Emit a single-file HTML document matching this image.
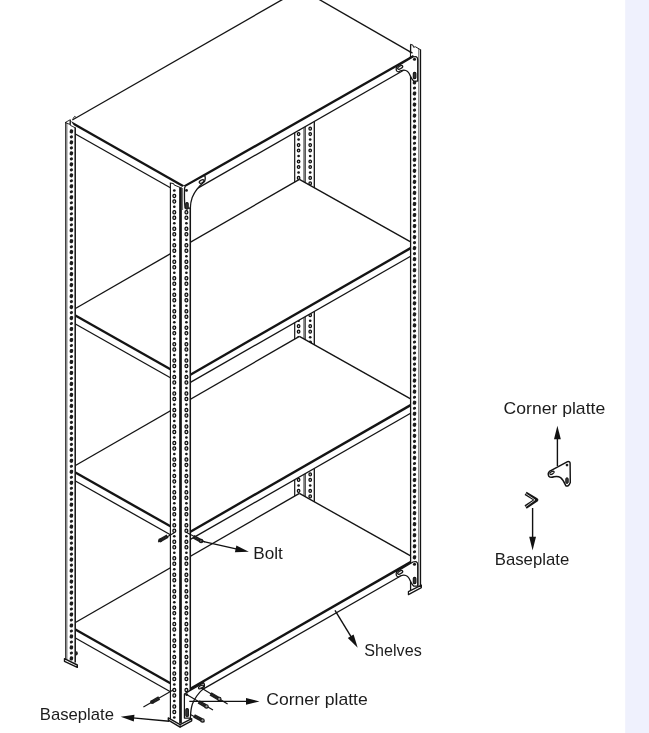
<!DOCTYPE html>
<html><head><meta charset="utf-8"><title>Shelving diagram</title>
<style>
html,body{margin:0;padding:0;background:#fff;}
body{width:649px;height:733px;overflow:hidden;position:relative;font-family:"Liberation Sans",sans-serif;}
</style></head><body>
<svg width="649" height="733" viewBox="0 0 649 733" style="position:absolute;left:0;top:0">
<rect x="0" y="0" width="649" height="733" fill="#fff"/>
<rect x="625.2" y="0" width="24" height="733" fill="#eff1fd"/>
<polygon points="294.50,100.00 314.40,100.00 314.40,560.00 294.50,560.00" fill="#fff" stroke="none" stroke-width="1.0" stroke-linejoin="round"/>
<line x1="294.70" y1="100.00" x2="294.70" y2="560.00" stroke="#141414" stroke-width="1.2" stroke-linecap="butt"/>
<line x1="304.00" y1="100.00" x2="304.00" y2="560.00" stroke="#141414" stroke-width="0.9" stroke-linecap="butt"/>
<line x1="305.30" y1="100.00" x2="305.30" y2="560.00" stroke="#141414" stroke-width="0.9" stroke-linecap="butt"/>
<line x1="314.30" y1="100.00" x2="314.30" y2="560.00" stroke="#141414" stroke-width="1.3" stroke-linecap="butt"/>
<rect x="297.40" y="99.62" width="2.40" height="2.95" rx="1.15" fill="#cfcfcf" stroke="#0e0e0e" stroke-width="1.25"/>
<ellipse cx="298.60" cy="106.59" rx="1.35" ry="1.25" fill="#161616"/>
<rect x="297.40" y="110.61" width="2.40" height="2.95" rx="1.15" fill="#cfcfcf" stroke="#0e0e0e" stroke-width="1.25"/>
<rect x="297.40" y="116.09" width="2.40" height="2.95" rx="1.15" fill="#cfcfcf" stroke="#0e0e0e" stroke-width="1.25"/>
<ellipse cx="298.60" cy="123.06" rx="1.35" ry="1.25" fill="#161616"/>
<rect x="297.40" y="127.08" width="2.40" height="2.95" rx="1.15" fill="#cfcfcf" stroke="#0e0e0e" stroke-width="1.25"/>
<rect x="297.40" y="132.56" width="2.40" height="2.95" rx="1.15" fill="#cfcfcf" stroke="#0e0e0e" stroke-width="1.25"/>
<ellipse cx="298.60" cy="139.53" rx="1.35" ry="1.25" fill="#161616"/>
<rect x="297.40" y="143.55" width="2.40" height="2.95" rx="1.15" fill="#cfcfcf" stroke="#0e0e0e" stroke-width="1.25"/>
<rect x="297.40" y="149.03" width="2.40" height="2.95" rx="1.15" fill="#cfcfcf" stroke="#0e0e0e" stroke-width="1.25"/>
<ellipse cx="298.60" cy="156.00" rx="1.35" ry="1.25" fill="#161616"/>
<rect x="297.40" y="160.02" width="2.40" height="2.95" rx="1.15" fill="#cfcfcf" stroke="#0e0e0e" stroke-width="1.25"/>
<rect x="297.40" y="165.50" width="2.40" height="2.95" rx="1.15" fill="#cfcfcf" stroke="#0e0e0e" stroke-width="1.25"/>
<ellipse cx="298.60" cy="172.47" rx="1.35" ry="1.25" fill="#161616"/>
<rect x="297.40" y="176.49" width="2.40" height="2.95" rx="1.15" fill="#cfcfcf" stroke="#0e0e0e" stroke-width="1.25"/>
<rect x="297.40" y="181.97" width="2.40" height="2.95" rx="1.15" fill="#cfcfcf" stroke="#0e0e0e" stroke-width="1.25"/>
<ellipse cx="298.60" cy="188.94" rx="1.35" ry="1.25" fill="#161616"/>
<rect x="297.40" y="192.96" width="2.40" height="2.95" rx="1.15" fill="#cfcfcf" stroke="#0e0e0e" stroke-width="1.25"/>
<rect x="297.40" y="198.45" width="2.40" height="2.95" rx="1.15" fill="#cfcfcf" stroke="#0e0e0e" stroke-width="1.25"/>
<ellipse cx="298.60" cy="205.41" rx="1.35" ry="1.25" fill="#161616"/>
<rect x="297.40" y="209.43" width="2.40" height="2.95" rx="1.15" fill="#cfcfcf" stroke="#0e0e0e" stroke-width="1.25"/>
<rect x="297.40" y="214.91" width="2.40" height="2.95" rx="1.15" fill="#cfcfcf" stroke="#0e0e0e" stroke-width="1.25"/>
<ellipse cx="298.60" cy="221.88" rx="1.35" ry="1.25" fill="#161616"/>
<rect x="297.40" y="225.90" width="2.40" height="2.95" rx="1.15" fill="#cfcfcf" stroke="#0e0e0e" stroke-width="1.25"/>
<rect x="297.40" y="231.39" width="2.40" height="2.95" rx="1.15" fill="#cfcfcf" stroke="#0e0e0e" stroke-width="1.25"/>
<ellipse cx="298.60" cy="238.35" rx="1.35" ry="1.25" fill="#161616"/>
<rect x="297.40" y="242.37" width="2.40" height="2.95" rx="1.15" fill="#cfcfcf" stroke="#0e0e0e" stroke-width="1.25"/>
<rect x="297.40" y="247.85" width="2.40" height="2.95" rx="1.15" fill="#cfcfcf" stroke="#0e0e0e" stroke-width="1.25"/>
<ellipse cx="298.60" cy="254.82" rx="1.35" ry="1.25" fill="#161616"/>
<rect x="297.40" y="258.83" width="2.40" height="2.95" rx="1.15" fill="#cfcfcf" stroke="#0e0e0e" stroke-width="1.25"/>
<rect x="297.40" y="264.32" width="2.40" height="2.95" rx="1.15" fill="#cfcfcf" stroke="#0e0e0e" stroke-width="1.25"/>
<ellipse cx="298.60" cy="271.29" rx="1.35" ry="1.25" fill="#161616"/>
<rect x="297.40" y="275.30" width="2.40" height="2.95" rx="1.15" fill="#cfcfcf" stroke="#0e0e0e" stroke-width="1.25"/>
<rect x="297.40" y="280.79" width="2.40" height="2.95" rx="1.15" fill="#cfcfcf" stroke="#0e0e0e" stroke-width="1.25"/>
<ellipse cx="298.60" cy="287.76" rx="1.35" ry="1.25" fill="#161616"/>
<rect x="297.40" y="291.77" width="2.40" height="2.95" rx="1.15" fill="#cfcfcf" stroke="#0e0e0e" stroke-width="1.25"/>
<rect x="297.40" y="297.26" width="2.40" height="2.95" rx="1.15" fill="#cfcfcf" stroke="#0e0e0e" stroke-width="1.25"/>
<ellipse cx="298.60" cy="304.23" rx="1.35" ry="1.25" fill="#161616"/>
<rect x="297.40" y="308.25" width="2.40" height="2.95" rx="1.15" fill="#cfcfcf" stroke="#0e0e0e" stroke-width="1.25"/>
<rect x="297.40" y="313.74" width="2.40" height="2.95" rx="1.15" fill="#cfcfcf" stroke="#0e0e0e" stroke-width="1.25"/>
<ellipse cx="298.60" cy="320.70" rx="1.35" ry="1.25" fill="#161616"/>
<rect x="297.40" y="324.71" width="2.40" height="2.95" rx="1.15" fill="#cfcfcf" stroke="#0e0e0e" stroke-width="1.25"/>
<rect x="297.40" y="330.20" width="2.40" height="2.95" rx="1.15" fill="#cfcfcf" stroke="#0e0e0e" stroke-width="1.25"/>
<ellipse cx="298.60" cy="337.17" rx="1.35" ry="1.25" fill="#161616"/>
<rect x="297.40" y="341.18" width="2.40" height="2.95" rx="1.15" fill="#cfcfcf" stroke="#0e0e0e" stroke-width="1.25"/>
<rect x="297.40" y="346.67" width="2.40" height="2.95" rx="1.15" fill="#cfcfcf" stroke="#0e0e0e" stroke-width="1.25"/>
<ellipse cx="298.60" cy="353.64" rx="1.35" ry="1.25" fill="#161616"/>
<rect x="297.40" y="357.65" width="2.40" height="2.95" rx="1.15" fill="#cfcfcf" stroke="#0e0e0e" stroke-width="1.25"/>
<rect x="297.40" y="363.14" width="2.40" height="2.95" rx="1.15" fill="#cfcfcf" stroke="#0e0e0e" stroke-width="1.25"/>
<ellipse cx="298.60" cy="370.11" rx="1.35" ry="1.25" fill="#161616"/>
<rect x="297.40" y="374.12" width="2.40" height="2.95" rx="1.15" fill="#cfcfcf" stroke="#0e0e0e" stroke-width="1.25"/>
<rect x="297.40" y="379.62" width="2.40" height="2.95" rx="1.15" fill="#cfcfcf" stroke="#0e0e0e" stroke-width="1.25"/>
<ellipse cx="298.60" cy="386.58" rx="1.35" ry="1.25" fill="#161616"/>
<rect x="297.40" y="390.60" width="2.40" height="2.95" rx="1.15" fill="#cfcfcf" stroke="#0e0e0e" stroke-width="1.25"/>
<rect x="297.40" y="396.08" width="2.40" height="2.95" rx="1.15" fill="#cfcfcf" stroke="#0e0e0e" stroke-width="1.25"/>
<ellipse cx="298.60" cy="403.05" rx="1.35" ry="1.25" fill="#161616"/>
<rect x="297.40" y="407.06" width="2.40" height="2.95" rx="1.15" fill="#cfcfcf" stroke="#0e0e0e" stroke-width="1.25"/>
<rect x="297.40" y="412.56" width="2.40" height="2.95" rx="1.15" fill="#cfcfcf" stroke="#0e0e0e" stroke-width="1.25"/>
<ellipse cx="298.60" cy="419.52" rx="1.35" ry="1.25" fill="#161616"/>
<rect x="297.40" y="423.53" width="2.40" height="2.95" rx="1.15" fill="#cfcfcf" stroke="#0e0e0e" stroke-width="1.25"/>
<rect x="297.40" y="429.02" width="2.40" height="2.95" rx="1.15" fill="#cfcfcf" stroke="#0e0e0e" stroke-width="1.25"/>
<ellipse cx="298.60" cy="435.99" rx="1.35" ry="1.25" fill="#161616"/>
<rect x="297.40" y="440.00" width="2.40" height="2.95" rx="1.15" fill="#cfcfcf" stroke="#0e0e0e" stroke-width="1.25"/>
<rect x="297.40" y="445.50" width="2.40" height="2.95" rx="1.15" fill="#cfcfcf" stroke="#0e0e0e" stroke-width="1.25"/>
<ellipse cx="298.60" cy="452.46" rx="1.35" ry="1.25" fill="#161616"/>
<rect x="297.40" y="456.47" width="2.40" height="2.95" rx="1.15" fill="#cfcfcf" stroke="#0e0e0e" stroke-width="1.25"/>
<rect x="297.40" y="461.96" width="2.40" height="2.95" rx="1.15" fill="#cfcfcf" stroke="#0e0e0e" stroke-width="1.25"/>
<ellipse cx="298.60" cy="468.93" rx="1.35" ry="1.25" fill="#161616"/>
<rect x="297.40" y="472.94" width="2.40" height="2.95" rx="1.15" fill="#cfcfcf" stroke="#0e0e0e" stroke-width="1.25"/>
<rect x="297.40" y="478.44" width="2.40" height="2.95" rx="1.15" fill="#cfcfcf" stroke="#0e0e0e" stroke-width="1.25"/>
<ellipse cx="298.60" cy="485.40" rx="1.35" ry="1.25" fill="#161616"/>
<rect x="297.40" y="489.41" width="2.40" height="2.95" rx="1.15" fill="#cfcfcf" stroke="#0e0e0e" stroke-width="1.25"/>
<rect x="297.40" y="494.90" width="2.40" height="2.95" rx="1.15" fill="#cfcfcf" stroke="#0e0e0e" stroke-width="1.25"/>
<ellipse cx="298.60" cy="501.87" rx="1.35" ry="1.25" fill="#161616"/>
<rect x="297.40" y="505.88" width="2.40" height="2.95" rx="1.15" fill="#cfcfcf" stroke="#0e0e0e" stroke-width="1.25"/>
<rect x="297.40" y="511.38" width="2.40" height="2.95" rx="1.15" fill="#cfcfcf" stroke="#0e0e0e" stroke-width="1.25"/>
<ellipse cx="298.60" cy="518.34" rx="1.35" ry="1.25" fill="#161616"/>
<rect x="297.40" y="522.36" width="2.40" height="2.95" rx="1.15" fill="#cfcfcf" stroke="#0e0e0e" stroke-width="1.25"/>
<rect x="297.40" y="527.84" width="2.40" height="2.95" rx="1.15" fill="#cfcfcf" stroke="#0e0e0e" stroke-width="1.25"/>
<ellipse cx="298.60" cy="534.81" rx="1.35" ry="1.25" fill="#161616"/>
<rect x="297.40" y="538.82" width="2.40" height="2.95" rx="1.15" fill="#cfcfcf" stroke="#0e0e0e" stroke-width="1.25"/>
<rect x="297.40" y="544.31" width="2.40" height="2.95" rx="1.15" fill="#cfcfcf" stroke="#0e0e0e" stroke-width="1.25"/>
<ellipse cx="298.60" cy="551.28" rx="1.35" ry="1.25" fill="#161616"/>
<rect x="297.40" y="555.29" width="2.40" height="2.95" rx="1.15" fill="#cfcfcf" stroke="#0e0e0e" stroke-width="1.25"/>
<rect x="309.00" y="99.62" width="2.40" height="2.95" rx="1.15" fill="#cfcfcf" stroke="#0e0e0e" stroke-width="1.25"/>
<ellipse cx="310.20" cy="106.59" rx="1.35" ry="1.25" fill="#161616"/>
<rect x="309.00" y="110.61" width="2.40" height="2.95" rx="1.15" fill="#cfcfcf" stroke="#0e0e0e" stroke-width="1.25"/>
<rect x="309.00" y="116.09" width="2.40" height="2.95" rx="1.15" fill="#cfcfcf" stroke="#0e0e0e" stroke-width="1.25"/>
<ellipse cx="310.20" cy="123.06" rx="1.35" ry="1.25" fill="#161616"/>
<rect x="309.00" y="127.08" width="2.40" height="2.95" rx="1.15" fill="#cfcfcf" stroke="#0e0e0e" stroke-width="1.25"/>
<rect x="309.00" y="132.56" width="2.40" height="2.95" rx="1.15" fill="#cfcfcf" stroke="#0e0e0e" stroke-width="1.25"/>
<ellipse cx="310.20" cy="139.53" rx="1.35" ry="1.25" fill="#161616"/>
<rect x="309.00" y="143.55" width="2.40" height="2.95" rx="1.15" fill="#cfcfcf" stroke="#0e0e0e" stroke-width="1.25"/>
<rect x="309.00" y="149.03" width="2.40" height="2.95" rx="1.15" fill="#cfcfcf" stroke="#0e0e0e" stroke-width="1.25"/>
<ellipse cx="310.20" cy="156.00" rx="1.35" ry="1.25" fill="#161616"/>
<rect x="309.00" y="160.02" width="2.40" height="2.95" rx="1.15" fill="#cfcfcf" stroke="#0e0e0e" stroke-width="1.25"/>
<rect x="309.00" y="165.50" width="2.40" height="2.95" rx="1.15" fill="#cfcfcf" stroke="#0e0e0e" stroke-width="1.25"/>
<ellipse cx="310.20" cy="172.47" rx="1.35" ry="1.25" fill="#161616"/>
<rect x="309.00" y="176.49" width="2.40" height="2.95" rx="1.15" fill="#cfcfcf" stroke="#0e0e0e" stroke-width="1.25"/>
<rect x="309.00" y="181.97" width="2.40" height="2.95" rx="1.15" fill="#cfcfcf" stroke="#0e0e0e" stroke-width="1.25"/>
<ellipse cx="310.20" cy="188.94" rx="1.35" ry="1.25" fill="#161616"/>
<rect x="309.00" y="192.96" width="2.40" height="2.95" rx="1.15" fill="#cfcfcf" stroke="#0e0e0e" stroke-width="1.25"/>
<rect x="309.00" y="198.45" width="2.40" height="2.95" rx="1.15" fill="#cfcfcf" stroke="#0e0e0e" stroke-width="1.25"/>
<ellipse cx="310.20" cy="205.41" rx="1.35" ry="1.25" fill="#161616"/>
<rect x="309.00" y="209.43" width="2.40" height="2.95" rx="1.15" fill="#cfcfcf" stroke="#0e0e0e" stroke-width="1.25"/>
<rect x="309.00" y="214.91" width="2.40" height="2.95" rx="1.15" fill="#cfcfcf" stroke="#0e0e0e" stroke-width="1.25"/>
<ellipse cx="310.20" cy="221.88" rx="1.35" ry="1.25" fill="#161616"/>
<rect x="309.00" y="225.90" width="2.40" height="2.95" rx="1.15" fill="#cfcfcf" stroke="#0e0e0e" stroke-width="1.25"/>
<rect x="309.00" y="231.39" width="2.40" height="2.95" rx="1.15" fill="#cfcfcf" stroke="#0e0e0e" stroke-width="1.25"/>
<ellipse cx="310.20" cy="238.35" rx="1.35" ry="1.25" fill="#161616"/>
<rect x="309.00" y="242.37" width="2.40" height="2.95" rx="1.15" fill="#cfcfcf" stroke="#0e0e0e" stroke-width="1.25"/>
<rect x="309.00" y="247.85" width="2.40" height="2.95" rx="1.15" fill="#cfcfcf" stroke="#0e0e0e" stroke-width="1.25"/>
<ellipse cx="310.20" cy="254.82" rx="1.35" ry="1.25" fill="#161616"/>
<rect x="309.00" y="258.83" width="2.40" height="2.95" rx="1.15" fill="#cfcfcf" stroke="#0e0e0e" stroke-width="1.25"/>
<rect x="309.00" y="264.32" width="2.40" height="2.95" rx="1.15" fill="#cfcfcf" stroke="#0e0e0e" stroke-width="1.25"/>
<ellipse cx="310.20" cy="271.29" rx="1.35" ry="1.25" fill="#161616"/>
<rect x="309.00" y="275.30" width="2.40" height="2.95" rx="1.15" fill="#cfcfcf" stroke="#0e0e0e" stroke-width="1.25"/>
<rect x="309.00" y="280.79" width="2.40" height="2.95" rx="1.15" fill="#cfcfcf" stroke="#0e0e0e" stroke-width="1.25"/>
<ellipse cx="310.20" cy="287.76" rx="1.35" ry="1.25" fill="#161616"/>
<rect x="309.00" y="291.77" width="2.40" height="2.95" rx="1.15" fill="#cfcfcf" stroke="#0e0e0e" stroke-width="1.25"/>
<rect x="309.00" y="297.26" width="2.40" height="2.95" rx="1.15" fill="#cfcfcf" stroke="#0e0e0e" stroke-width="1.25"/>
<ellipse cx="310.20" cy="304.23" rx="1.35" ry="1.25" fill="#161616"/>
<rect x="309.00" y="308.25" width="2.40" height="2.95" rx="1.15" fill="#cfcfcf" stroke="#0e0e0e" stroke-width="1.25"/>
<rect x="309.00" y="313.74" width="2.40" height="2.95" rx="1.15" fill="#cfcfcf" stroke="#0e0e0e" stroke-width="1.25"/>
<ellipse cx="310.20" cy="320.70" rx="1.35" ry="1.25" fill="#161616"/>
<rect x="309.00" y="324.71" width="2.40" height="2.95" rx="1.15" fill="#cfcfcf" stroke="#0e0e0e" stroke-width="1.25"/>
<rect x="309.00" y="330.20" width="2.40" height="2.95" rx="1.15" fill="#cfcfcf" stroke="#0e0e0e" stroke-width="1.25"/>
<ellipse cx="310.20" cy="337.17" rx="1.35" ry="1.25" fill="#161616"/>
<rect x="309.00" y="341.18" width="2.40" height="2.95" rx="1.15" fill="#cfcfcf" stroke="#0e0e0e" stroke-width="1.25"/>
<rect x="309.00" y="346.67" width="2.40" height="2.95" rx="1.15" fill="#cfcfcf" stroke="#0e0e0e" stroke-width="1.25"/>
<ellipse cx="310.20" cy="353.64" rx="1.35" ry="1.25" fill="#161616"/>
<rect x="309.00" y="357.65" width="2.40" height="2.95" rx="1.15" fill="#cfcfcf" stroke="#0e0e0e" stroke-width="1.25"/>
<rect x="309.00" y="363.14" width="2.40" height="2.95" rx="1.15" fill="#cfcfcf" stroke="#0e0e0e" stroke-width="1.25"/>
<ellipse cx="310.20" cy="370.11" rx="1.35" ry="1.25" fill="#161616"/>
<rect x="309.00" y="374.12" width="2.40" height="2.95" rx="1.15" fill="#cfcfcf" stroke="#0e0e0e" stroke-width="1.25"/>
<rect x="309.00" y="379.62" width="2.40" height="2.95" rx="1.15" fill="#cfcfcf" stroke="#0e0e0e" stroke-width="1.25"/>
<ellipse cx="310.20" cy="386.58" rx="1.35" ry="1.25" fill="#161616"/>
<rect x="309.00" y="390.60" width="2.40" height="2.95" rx="1.15" fill="#cfcfcf" stroke="#0e0e0e" stroke-width="1.25"/>
<rect x="309.00" y="396.08" width="2.40" height="2.95" rx="1.15" fill="#cfcfcf" stroke="#0e0e0e" stroke-width="1.25"/>
<ellipse cx="310.20" cy="403.05" rx="1.35" ry="1.25" fill="#161616"/>
<rect x="309.00" y="407.06" width="2.40" height="2.95" rx="1.15" fill="#cfcfcf" stroke="#0e0e0e" stroke-width="1.25"/>
<rect x="309.00" y="412.56" width="2.40" height="2.95" rx="1.15" fill="#cfcfcf" stroke="#0e0e0e" stroke-width="1.25"/>
<ellipse cx="310.20" cy="419.52" rx="1.35" ry="1.25" fill="#161616"/>
<rect x="309.00" y="423.53" width="2.40" height="2.95" rx="1.15" fill="#cfcfcf" stroke="#0e0e0e" stroke-width="1.25"/>
<rect x="309.00" y="429.02" width="2.40" height="2.95" rx="1.15" fill="#cfcfcf" stroke="#0e0e0e" stroke-width="1.25"/>
<ellipse cx="310.20" cy="435.99" rx="1.35" ry="1.25" fill="#161616"/>
<rect x="309.00" y="440.00" width="2.40" height="2.95" rx="1.15" fill="#cfcfcf" stroke="#0e0e0e" stroke-width="1.25"/>
<rect x="309.00" y="445.50" width="2.40" height="2.95" rx="1.15" fill="#cfcfcf" stroke="#0e0e0e" stroke-width="1.25"/>
<ellipse cx="310.20" cy="452.46" rx="1.35" ry="1.25" fill="#161616"/>
<rect x="309.00" y="456.47" width="2.40" height="2.95" rx="1.15" fill="#cfcfcf" stroke="#0e0e0e" stroke-width="1.25"/>
<rect x="309.00" y="461.96" width="2.40" height="2.95" rx="1.15" fill="#cfcfcf" stroke="#0e0e0e" stroke-width="1.25"/>
<ellipse cx="310.20" cy="468.93" rx="1.35" ry="1.25" fill="#161616"/>
<rect x="309.00" y="472.94" width="2.40" height="2.95" rx="1.15" fill="#cfcfcf" stroke="#0e0e0e" stroke-width="1.25"/>
<rect x="309.00" y="478.44" width="2.40" height="2.95" rx="1.15" fill="#cfcfcf" stroke="#0e0e0e" stroke-width="1.25"/>
<ellipse cx="310.20" cy="485.40" rx="1.35" ry="1.25" fill="#161616"/>
<rect x="309.00" y="489.41" width="2.40" height="2.95" rx="1.15" fill="#cfcfcf" stroke="#0e0e0e" stroke-width="1.25"/>
<rect x="309.00" y="494.90" width="2.40" height="2.95" rx="1.15" fill="#cfcfcf" stroke="#0e0e0e" stroke-width="1.25"/>
<ellipse cx="310.20" cy="501.87" rx="1.35" ry="1.25" fill="#161616"/>
<rect x="309.00" y="505.88" width="2.40" height="2.95" rx="1.15" fill="#cfcfcf" stroke="#0e0e0e" stroke-width="1.25"/>
<rect x="309.00" y="511.38" width="2.40" height="2.95" rx="1.15" fill="#cfcfcf" stroke="#0e0e0e" stroke-width="1.25"/>
<ellipse cx="310.20" cy="518.34" rx="1.35" ry="1.25" fill="#161616"/>
<rect x="309.00" y="522.36" width="2.40" height="2.95" rx="1.15" fill="#cfcfcf" stroke="#0e0e0e" stroke-width="1.25"/>
<rect x="309.00" y="527.84" width="2.40" height="2.95" rx="1.15" fill="#cfcfcf" stroke="#0e0e0e" stroke-width="1.25"/>
<ellipse cx="310.20" cy="534.81" rx="1.35" ry="1.25" fill="#161616"/>
<rect x="309.00" y="538.82" width="2.40" height="2.95" rx="1.15" fill="#cfcfcf" stroke="#0e0e0e" stroke-width="1.25"/>
<rect x="309.00" y="544.31" width="2.40" height="2.95" rx="1.15" fill="#cfcfcf" stroke="#0e0e0e" stroke-width="1.25"/>
<ellipse cx="310.20" cy="551.28" rx="1.35" ry="1.25" fill="#161616"/>
<rect x="309.00" y="555.29" width="2.40" height="2.95" rx="1.15" fill="#cfcfcf" stroke="#0e0e0e" stroke-width="1.25"/>
<polygon points="68.00,122.00 300.90,-11.05 414.00,54.00 410.60,66.20 190.40,192.40 180.50,196.00 170.40,187.80 75.40,134.00" fill="#fff" stroke="none" stroke-width="1.0" stroke-linejoin="round"/>
<line x1="72.30" y1="120.00" x2="300.90" y2="-11.05" stroke="#141414" stroke-width="1.35" stroke-linecap="butt"/>
<line x1="300.90" y1="-11.05" x2="412.40" y2="53.10" stroke="#141414" stroke-width="1.35" stroke-linecap="butt"/>
<line x1="70.80" y1="122.30" x2="183.40" y2="186.20" stroke="#141414" stroke-width="2.4" stroke-linecap="butt"/>
<line x1="75.40" y1="134.00" x2="170.40" y2="187.80" stroke="#141414" stroke-width="1.3" stroke-linecap="butt"/>
<line x1="184.20" y1="186.50" x2="413.20" y2="56.20" stroke="#141414" stroke-width="2.4" stroke-linecap="butt"/>
<line x1="190.40" y1="192.40" x2="410.60" y2="66.20" stroke="#141414" stroke-width="1.3" stroke-linecap="butt"/>
<polygon points="68.00,312.00 299.40,179.40 414.00,244.00 410.60,256.20 190.40,382.40 180.50,386.00 170.40,377.80 75.40,324.00" fill="#fff" stroke="none" stroke-width="1.0" stroke-linejoin="round"/>
<line x1="75.40" y1="308.50" x2="299.40" y2="179.40" stroke="#141414" stroke-width="1.35" stroke-linecap="butt"/>
<line x1="299.40" y1="179.40" x2="410.60" y2="241.90" stroke="#141414" stroke-width="1.35" stroke-linecap="butt"/>
<line x1="75.40" y1="315.50" x2="170.40" y2="369.30" stroke="#141414" stroke-width="2.4" stroke-linecap="butt"/>
<line x1="75.40" y1="324.00" x2="170.40" y2="377.80" stroke="#141414" stroke-width="1.3" stroke-linecap="butt"/>
<line x1="190.40" y1="374.70" x2="410.60" y2="248.10" stroke="#141414" stroke-width="2.4" stroke-linecap="butt"/>
<line x1="190.40" y1="382.40" x2="410.60" y2="256.20" stroke="#141414" stroke-width="1.3" stroke-linecap="butt"/>
<polygon points="68.00,469.00 299.40,336.40 414.00,401.00 410.60,413.20 190.40,539.40 180.50,543.00 170.40,534.80 75.40,481.00" fill="#fff" stroke="none" stroke-width="1.0" stroke-linejoin="round"/>
<line x1="75.40" y1="465.50" x2="299.40" y2="336.40" stroke="#141414" stroke-width="1.35" stroke-linecap="butt"/>
<line x1="299.40" y1="336.40" x2="410.60" y2="398.90" stroke="#141414" stroke-width="1.35" stroke-linecap="butt"/>
<line x1="75.40" y1="472.50" x2="170.40" y2="526.30" stroke="#141414" stroke-width="2.4" stroke-linecap="butt"/>
<line x1="75.40" y1="481.00" x2="170.40" y2="534.80" stroke="#141414" stroke-width="1.3" stroke-linecap="butt"/>
<line x1="190.40" y1="531.70" x2="410.60" y2="405.10" stroke="#141414" stroke-width="2.4" stroke-linecap="butt"/>
<line x1="190.40" y1="539.40" x2="410.60" y2="413.20" stroke="#141414" stroke-width="1.3" stroke-linecap="butt"/>
<polygon points="68.00,626.00 299.40,493.40 414.00,558.00 410.60,570.20 190.40,696.40 180.50,700.00 170.40,691.80 75.40,638.00" fill="#fff" stroke="none" stroke-width="1.0" stroke-linejoin="round"/>
<line x1="75.40" y1="622.50" x2="299.40" y2="493.40" stroke="#141414" stroke-width="1.35" stroke-linecap="butt"/>
<line x1="299.40" y1="493.40" x2="410.60" y2="555.90" stroke="#141414" stroke-width="1.35" stroke-linecap="butt"/>
<line x1="75.40" y1="629.50" x2="170.40" y2="683.30" stroke="#141414" stroke-width="2.4" stroke-linecap="butt"/>
<line x1="75.40" y1="638.00" x2="170.40" y2="691.80" stroke="#141414" stroke-width="1.3" stroke-linecap="butt"/>
<line x1="190.40" y1="688.70" x2="410.60" y2="562.10" stroke="#141414" stroke-width="2.4" stroke-linecap="butt"/>
<line x1="190.40" y1="696.40" x2="410.60" y2="570.20" stroke="#141414" stroke-width="1.3" stroke-linecap="butt"/>
<polygon points="65.50,122.00 69.80,119.60 75.30,127.50 75.30,663.50 65.50,659.50" fill="#fff" stroke="none" stroke-width="1.0" stroke-linejoin="round"/>
<line x1="65.75" y1="122.00" x2="65.75" y2="659.50" stroke="#1a1a1a" stroke-width="1.15" stroke-linecap="butt"/>
<line x1="66.95" y1="123.00" x2="66.95" y2="659.50" stroke="#555" stroke-width="0.8" stroke-linecap="butt"/>
<line x1="75.20" y1="127.50" x2="75.20" y2="662.50" stroke="#141414" stroke-width="1.5" stroke-linecap="butt"/>
<path d="M65.6 122.3 L70.3 119.7 L69.9 124.0 Z M70.4 120.4 L70.4 125.4 L72.9 126.6 L75.3 127.8 M73.2 118.4 L74.6 116.4 L75.6 117.0" fill="none" stroke="#141414" stroke-width="0.9" stroke-linejoin="round" stroke-linecap="round" />
<rect x="69.70" y="129.35" width="3.4" height="4.1" rx="1.4" fill="#1c1c1c" transform="rotate(12 71.40 131.40)"/>
<ellipse cx="71.40" cy="136.89" rx="1.65" ry="1.45" fill="#1e1e1e" transform="rotate(-25 71.40 136.89)"/>
<rect x="69.70" y="140.33" width="3.4" height="4.1" rx="1.4" fill="#1c1c1c" transform="rotate(12 71.40 142.38)"/>
<ellipse cx="71.40" cy="147.87" rx="1.65" ry="1.45" fill="#1e1e1e" transform="rotate(-25 71.40 147.87)"/>
<rect x="69.70" y="151.31" width="3.4" height="4.1" rx="1.4" fill="#1c1c1c" transform="rotate(12 71.40 153.36)"/>
<ellipse cx="71.40" cy="158.85" rx="1.65" ry="1.45" fill="#1e1e1e" transform="rotate(-25 71.40 158.85)"/>
<rect x="69.70" y="162.29" width="3.4" height="4.1" rx="1.4" fill="#1c1c1c" transform="rotate(12 71.40 164.34)"/>
<ellipse cx="71.40" cy="169.83" rx="1.65" ry="1.45" fill="#1e1e1e" transform="rotate(-25 71.40 169.83)"/>
<rect x="69.70" y="173.27" width="3.4" height="4.1" rx="1.4" fill="#1c1c1c" transform="rotate(12 71.40 175.32)"/>
<ellipse cx="71.40" cy="180.81" rx="1.65" ry="1.45" fill="#1e1e1e" transform="rotate(-25 71.40 180.81)"/>
<rect x="69.70" y="184.25" width="3.4" height="4.1" rx="1.4" fill="#1c1c1c" transform="rotate(12 71.40 186.30)"/>
<ellipse cx="71.40" cy="191.79" rx="1.65" ry="1.45" fill="#1e1e1e" transform="rotate(-25 71.40 191.79)"/>
<rect x="69.70" y="195.23" width="3.4" height="4.1" rx="1.4" fill="#1c1c1c" transform="rotate(12 71.40 197.28)"/>
<ellipse cx="71.40" cy="202.77" rx="1.65" ry="1.45" fill="#1e1e1e" transform="rotate(-25 71.40 202.77)"/>
<rect x="69.70" y="206.21" width="3.4" height="4.1" rx="1.4" fill="#1c1c1c" transform="rotate(12 71.40 208.26)"/>
<ellipse cx="71.40" cy="213.75" rx="1.65" ry="1.45" fill="#1e1e1e" transform="rotate(-25 71.40 213.75)"/>
<rect x="69.70" y="217.19" width="3.4" height="4.1" rx="1.4" fill="#1c1c1c" transform="rotate(12 71.40 219.24)"/>
<ellipse cx="71.40" cy="224.73" rx="1.65" ry="1.45" fill="#1e1e1e" transform="rotate(-25 71.40 224.73)"/>
<rect x="69.70" y="228.17" width="3.4" height="4.1" rx="1.4" fill="#1c1c1c" transform="rotate(12 71.40 230.22)"/>
<ellipse cx="71.40" cy="235.71" rx="1.65" ry="1.45" fill="#1e1e1e" transform="rotate(-25 71.40 235.71)"/>
<rect x="69.70" y="239.15" width="3.4" height="4.1" rx="1.4" fill="#1c1c1c" transform="rotate(12 71.40 241.20)"/>
<ellipse cx="71.40" cy="246.69" rx="1.65" ry="1.45" fill="#1e1e1e" transform="rotate(-25 71.40 246.69)"/>
<rect x="69.70" y="250.13" width="3.4" height="4.1" rx="1.4" fill="#1c1c1c" transform="rotate(12 71.40 252.18)"/>
<ellipse cx="71.40" cy="257.67" rx="1.65" ry="1.45" fill="#1e1e1e" transform="rotate(-25 71.40 257.67)"/>
<rect x="69.70" y="261.11" width="3.4" height="4.1" rx="1.4" fill="#1c1c1c" transform="rotate(12 71.40 263.16)"/>
<ellipse cx="71.40" cy="268.65" rx="1.65" ry="1.45" fill="#1e1e1e" transform="rotate(-25 71.40 268.65)"/>
<rect x="69.70" y="272.09" width="3.4" height="4.1" rx="1.4" fill="#1c1c1c" transform="rotate(12 71.40 274.14)"/>
<ellipse cx="71.40" cy="279.63" rx="1.65" ry="1.45" fill="#1e1e1e" transform="rotate(-25 71.40 279.63)"/>
<rect x="69.70" y="283.07" width="3.4" height="4.1" rx="1.4" fill="#1c1c1c" transform="rotate(12 71.40 285.12)"/>
<ellipse cx="71.40" cy="290.61" rx="1.65" ry="1.45" fill="#1e1e1e" transform="rotate(-25 71.40 290.61)"/>
<rect x="69.70" y="294.05" width="3.4" height="4.1" rx="1.4" fill="#1c1c1c" transform="rotate(12 71.40 296.10)"/>
<ellipse cx="71.40" cy="301.59" rx="1.65" ry="1.45" fill="#1e1e1e" transform="rotate(-25 71.40 301.59)"/>
<rect x="69.70" y="305.03" width="3.4" height="4.1" rx="1.4" fill="#1c1c1c" transform="rotate(12 71.40 307.08)"/>
<ellipse cx="71.40" cy="312.57" rx="1.65" ry="1.45" fill="#1e1e1e" transform="rotate(-25 71.40 312.57)"/>
<rect x="69.70" y="316.01" width="3.4" height="4.1" rx="1.4" fill="#1c1c1c" transform="rotate(12 71.40 318.06)"/>
<ellipse cx="71.40" cy="323.55" rx="1.65" ry="1.45" fill="#1e1e1e" transform="rotate(-25 71.40 323.55)"/>
<rect x="69.70" y="326.99" width="3.4" height="4.1" rx="1.4" fill="#1c1c1c" transform="rotate(12 71.40 329.04)"/>
<ellipse cx="71.40" cy="334.53" rx="1.65" ry="1.45" fill="#1e1e1e" transform="rotate(-25 71.40 334.53)"/>
<rect x="69.70" y="337.97" width="3.4" height="4.1" rx="1.4" fill="#1c1c1c" transform="rotate(12 71.40 340.02)"/>
<ellipse cx="71.40" cy="345.51" rx="1.65" ry="1.45" fill="#1e1e1e" transform="rotate(-25 71.40 345.51)"/>
<rect x="69.70" y="348.95" width="3.4" height="4.1" rx="1.4" fill="#1c1c1c" transform="rotate(12 71.40 351.00)"/>
<ellipse cx="71.40" cy="356.49" rx="1.65" ry="1.45" fill="#1e1e1e" transform="rotate(-25 71.40 356.49)"/>
<rect x="69.70" y="359.93" width="3.4" height="4.1" rx="1.4" fill="#1c1c1c" transform="rotate(12 71.40 361.98)"/>
<ellipse cx="71.40" cy="367.47" rx="1.65" ry="1.45" fill="#1e1e1e" transform="rotate(-25 71.40 367.47)"/>
<rect x="69.70" y="370.91" width="3.4" height="4.1" rx="1.4" fill="#1c1c1c" transform="rotate(12 71.40 372.96)"/>
<ellipse cx="71.40" cy="378.45" rx="1.65" ry="1.45" fill="#1e1e1e" transform="rotate(-25 71.40 378.45)"/>
<rect x="69.70" y="381.89" width="3.4" height="4.1" rx="1.4" fill="#1c1c1c" transform="rotate(12 71.40 383.94)"/>
<ellipse cx="71.40" cy="389.43" rx="1.65" ry="1.45" fill="#1e1e1e" transform="rotate(-25 71.40 389.43)"/>
<rect x="69.70" y="392.87" width="3.4" height="4.1" rx="1.4" fill="#1c1c1c" transform="rotate(12 71.40 394.92)"/>
<ellipse cx="71.40" cy="400.41" rx="1.65" ry="1.45" fill="#1e1e1e" transform="rotate(-25 71.40 400.41)"/>
<rect x="69.70" y="403.85" width="3.4" height="4.1" rx="1.4" fill="#1c1c1c" transform="rotate(12 71.40 405.90)"/>
<ellipse cx="71.40" cy="411.39" rx="1.65" ry="1.45" fill="#1e1e1e" transform="rotate(-25 71.40 411.39)"/>
<rect x="69.70" y="414.83" width="3.4" height="4.1" rx="1.4" fill="#1c1c1c" transform="rotate(12 71.40 416.88)"/>
<ellipse cx="71.40" cy="422.37" rx="1.65" ry="1.45" fill="#1e1e1e" transform="rotate(-25 71.40 422.37)"/>
<rect x="69.70" y="425.81" width="3.4" height="4.1" rx="1.4" fill="#1c1c1c" transform="rotate(12 71.40 427.86)"/>
<ellipse cx="71.40" cy="433.35" rx="1.65" ry="1.45" fill="#1e1e1e" transform="rotate(-25 71.40 433.35)"/>
<rect x="69.70" y="436.79" width="3.4" height="4.1" rx="1.4" fill="#1c1c1c" transform="rotate(12 71.40 438.84)"/>
<ellipse cx="71.40" cy="444.33" rx="1.65" ry="1.45" fill="#1e1e1e" transform="rotate(-25 71.40 444.33)"/>
<rect x="69.70" y="447.77" width="3.4" height="4.1" rx="1.4" fill="#1c1c1c" transform="rotate(12 71.40 449.82)"/>
<ellipse cx="71.40" cy="455.31" rx="1.65" ry="1.45" fill="#1e1e1e" transform="rotate(-25 71.40 455.31)"/>
<rect x="69.70" y="458.75" width="3.4" height="4.1" rx="1.4" fill="#1c1c1c" transform="rotate(12 71.40 460.80)"/>
<ellipse cx="71.40" cy="466.29" rx="1.65" ry="1.45" fill="#1e1e1e" transform="rotate(-25 71.40 466.29)"/>
<rect x="69.70" y="469.73" width="3.4" height="4.1" rx="1.4" fill="#1c1c1c" transform="rotate(12 71.40 471.78)"/>
<ellipse cx="71.40" cy="477.27" rx="1.65" ry="1.45" fill="#1e1e1e" transform="rotate(-25 71.40 477.27)"/>
<rect x="69.70" y="480.71" width="3.4" height="4.1" rx="1.4" fill="#1c1c1c" transform="rotate(12 71.40 482.76)"/>
<ellipse cx="71.40" cy="488.25" rx="1.65" ry="1.45" fill="#1e1e1e" transform="rotate(-25 71.40 488.25)"/>
<rect x="69.70" y="491.69" width="3.4" height="4.1" rx="1.4" fill="#1c1c1c" transform="rotate(12 71.40 493.74)"/>
<ellipse cx="71.40" cy="499.23" rx="1.65" ry="1.45" fill="#1e1e1e" transform="rotate(-25 71.40 499.23)"/>
<rect x="69.70" y="502.67" width="3.4" height="4.1" rx="1.4" fill="#1c1c1c" transform="rotate(12 71.40 504.72)"/>
<ellipse cx="71.40" cy="510.21" rx="1.65" ry="1.45" fill="#1e1e1e" transform="rotate(-25 71.40 510.21)"/>
<rect x="69.70" y="513.65" width="3.4" height="4.1" rx="1.4" fill="#1c1c1c" transform="rotate(12 71.40 515.70)"/>
<ellipse cx="71.40" cy="521.19" rx="1.65" ry="1.45" fill="#1e1e1e" transform="rotate(-25 71.40 521.19)"/>
<rect x="69.70" y="524.63" width="3.4" height="4.1" rx="1.4" fill="#1c1c1c" transform="rotate(12 71.40 526.68)"/>
<ellipse cx="71.40" cy="532.17" rx="1.65" ry="1.45" fill="#1e1e1e" transform="rotate(-25 71.40 532.17)"/>
<rect x="69.70" y="535.61" width="3.4" height="4.1" rx="1.4" fill="#1c1c1c" transform="rotate(12 71.40 537.66)"/>
<ellipse cx="71.40" cy="543.15" rx="1.65" ry="1.45" fill="#1e1e1e" transform="rotate(-25 71.40 543.15)"/>
<rect x="69.70" y="546.59" width="3.4" height="4.1" rx="1.4" fill="#1c1c1c" transform="rotate(12 71.40 548.64)"/>
<ellipse cx="71.40" cy="554.13" rx="1.65" ry="1.45" fill="#1e1e1e" transform="rotate(-25 71.40 554.13)"/>
<rect x="69.70" y="557.57" width="3.4" height="4.1" rx="1.4" fill="#1c1c1c" transform="rotate(12 71.40 559.62)"/>
<ellipse cx="71.40" cy="565.11" rx="1.65" ry="1.45" fill="#1e1e1e" transform="rotate(-25 71.40 565.11)"/>
<rect x="69.70" y="568.55" width="3.4" height="4.1" rx="1.4" fill="#1c1c1c" transform="rotate(12 71.40 570.60)"/>
<ellipse cx="71.40" cy="576.09" rx="1.65" ry="1.45" fill="#1e1e1e" transform="rotate(-25 71.40 576.09)"/>
<rect x="69.70" y="579.53" width="3.4" height="4.1" rx="1.4" fill="#1c1c1c" transform="rotate(12 71.40 581.58)"/>
<ellipse cx="71.40" cy="587.07" rx="1.65" ry="1.45" fill="#1e1e1e" transform="rotate(-25 71.40 587.07)"/>
<rect x="69.70" y="590.51" width="3.4" height="4.1" rx="1.4" fill="#1c1c1c" transform="rotate(12 71.40 592.56)"/>
<ellipse cx="71.40" cy="598.05" rx="1.65" ry="1.45" fill="#1e1e1e" transform="rotate(-25 71.40 598.05)"/>
<rect x="69.70" y="601.49" width="3.4" height="4.1" rx="1.4" fill="#1c1c1c" transform="rotate(12 71.40 603.54)"/>
<ellipse cx="71.40" cy="609.03" rx="1.65" ry="1.45" fill="#1e1e1e" transform="rotate(-25 71.40 609.03)"/>
<rect x="69.70" y="612.47" width="3.4" height="4.1" rx="1.4" fill="#1c1c1c" transform="rotate(12 71.40 614.52)"/>
<ellipse cx="71.40" cy="620.01" rx="1.65" ry="1.45" fill="#1e1e1e" transform="rotate(-25 71.40 620.01)"/>
<rect x="69.70" y="623.45" width="3.4" height="4.1" rx="1.4" fill="#1c1c1c" transform="rotate(12 71.40 625.50)"/>
<ellipse cx="71.40" cy="630.99" rx="1.65" ry="1.45" fill="#1e1e1e" transform="rotate(-25 71.40 630.99)"/>
<rect x="69.70" y="634.43" width="3.4" height="4.1" rx="1.4" fill="#1c1c1c" transform="rotate(12 71.40 636.48)"/>
<ellipse cx="71.40" cy="641.97" rx="1.65" ry="1.45" fill="#1e1e1e" transform="rotate(-25 71.40 641.97)"/>
<rect x="69.70" y="645.41" width="3.4" height="4.1" rx="1.4" fill="#1c1c1c" transform="rotate(12 71.40 647.46)"/>
<ellipse cx="71.40" cy="652.95" rx="1.65" ry="1.45" fill="#1e1e1e" transform="rotate(-25 71.40 652.95)"/>
<rect x="69.70" y="656.39" width="3.4" height="4.1" rx="1.4" fill="#1c1c1c" transform="rotate(12 71.40 658.44)"/>
<polygon points="64.50,658.70 77.30,665.00 77.30,667.40 64.50,661.30" fill="#fff" stroke="#141414" stroke-width="1.4" stroke-linejoin="round"/>
<ellipse cx="76.5" cy="653.3" rx="1.3" ry="2.1" fill="#222"/>
<polygon points="170.20,183.00 180.00,187.20 190.40,185.00 190.40,719.00 180.80,725.00 170.20,719.00" fill="#fff" stroke="none" stroke-width="1.0" stroke-linejoin="round"/>
<line x1="170.40" y1="183.00" x2="170.40" y2="719.00" stroke="#141414" stroke-width="1.15" stroke-linecap="butt"/>
<line x1="180.50" y1="187.20" x2="180.50" y2="723.60" stroke="#141414" stroke-width="2.7" stroke-linecap="butt"/>
<line x1="182.60" y1="188.00" x2="182.60" y2="210.00" stroke="#333" stroke-width="0.8" stroke-linecap="butt"/>
<line x1="189.70" y1="206.00" x2="189.70" y2="719.00" stroke="#555" stroke-width="0.8" stroke-linecap="butt"/>
<line x1="190.50" y1="206.00" x2="190.50" y2="719.00" stroke="#141414" stroke-width="1.1" stroke-linecap="butt"/>
<path d="M170.2 183 L173.6 183.6 L174.2 185 L180 187.4" fill="none" stroke="#141414" stroke-width="1.0" stroke-linejoin="round" stroke-linecap="round" />
<ellipse cx="174.30" cy="190.40" rx="1.35" ry="1.25" fill="#161616"/>
<rect x="172.95" y="194.27" width="2.70" height="3.25" rx="1.15" fill="#cfcfcf" stroke="#0e0e0e" stroke-width="1.25"/>
<rect x="172.95" y="199.75" width="2.70" height="3.25" rx="1.15" fill="#cfcfcf" stroke="#0e0e0e" stroke-width="1.25"/>
<ellipse cx="174.30" cy="206.87" rx="1.35" ry="1.25" fill="#161616"/>
<rect x="172.95" y="210.74" width="2.70" height="3.25" rx="1.15" fill="#cfcfcf" stroke="#0e0e0e" stroke-width="1.25"/>
<rect x="172.95" y="216.23" width="2.70" height="3.25" rx="1.15" fill="#cfcfcf" stroke="#0e0e0e" stroke-width="1.25"/>
<ellipse cx="174.30" cy="223.34" rx="1.35" ry="1.25" fill="#161616"/>
<rect x="172.95" y="227.21" width="2.70" height="3.25" rx="1.15" fill="#cfcfcf" stroke="#0e0e0e" stroke-width="1.25"/>
<rect x="172.95" y="232.69" width="2.70" height="3.25" rx="1.15" fill="#cfcfcf" stroke="#0e0e0e" stroke-width="1.25"/>
<ellipse cx="174.30" cy="239.81" rx="1.35" ry="1.25" fill="#161616"/>
<rect x="172.95" y="243.68" width="2.70" height="3.25" rx="1.15" fill="#cfcfcf" stroke="#0e0e0e" stroke-width="1.25"/>
<rect x="172.95" y="249.17" width="2.70" height="3.25" rx="1.15" fill="#cfcfcf" stroke="#0e0e0e" stroke-width="1.25"/>
<ellipse cx="174.30" cy="256.28" rx="1.35" ry="1.25" fill="#161616"/>
<rect x="172.95" y="260.14" width="2.70" height="3.25" rx="1.15" fill="#cfcfcf" stroke="#0e0e0e" stroke-width="1.25"/>
<rect x="172.95" y="265.63" width="2.70" height="3.25" rx="1.15" fill="#cfcfcf" stroke="#0e0e0e" stroke-width="1.25"/>
<ellipse cx="174.30" cy="272.75" rx="1.35" ry="1.25" fill="#161616"/>
<rect x="172.95" y="276.62" width="2.70" height="3.25" rx="1.15" fill="#cfcfcf" stroke="#0e0e0e" stroke-width="1.25"/>
<rect x="172.95" y="282.11" width="2.70" height="3.25" rx="1.15" fill="#cfcfcf" stroke="#0e0e0e" stroke-width="1.25"/>
<ellipse cx="174.30" cy="289.22" rx="1.35" ry="1.25" fill="#161616"/>
<rect x="172.95" y="293.09" width="2.70" height="3.25" rx="1.15" fill="#cfcfcf" stroke="#0e0e0e" stroke-width="1.25"/>
<rect x="172.95" y="298.58" width="2.70" height="3.25" rx="1.15" fill="#cfcfcf" stroke="#0e0e0e" stroke-width="1.25"/>
<ellipse cx="174.30" cy="305.69" rx="1.35" ry="1.25" fill="#161616"/>
<rect x="172.95" y="309.56" width="2.70" height="3.25" rx="1.15" fill="#cfcfcf" stroke="#0e0e0e" stroke-width="1.25"/>
<rect x="172.95" y="315.05" width="2.70" height="3.25" rx="1.15" fill="#cfcfcf" stroke="#0e0e0e" stroke-width="1.25"/>
<ellipse cx="174.30" cy="322.16" rx="1.35" ry="1.25" fill="#161616"/>
<rect x="172.95" y="326.02" width="2.70" height="3.25" rx="1.15" fill="#cfcfcf" stroke="#0e0e0e" stroke-width="1.25"/>
<rect x="172.95" y="331.51" width="2.70" height="3.25" rx="1.15" fill="#cfcfcf" stroke="#0e0e0e" stroke-width="1.25"/>
<ellipse cx="174.30" cy="338.63" rx="1.35" ry="1.25" fill="#161616"/>
<rect x="172.95" y="342.50" width="2.70" height="3.25" rx="1.15" fill="#cfcfcf" stroke="#0e0e0e" stroke-width="1.25"/>
<rect x="172.95" y="347.99" width="2.70" height="3.25" rx="1.15" fill="#cfcfcf" stroke="#0e0e0e" stroke-width="1.25"/>
<ellipse cx="174.30" cy="355.10" rx="1.35" ry="1.25" fill="#161616"/>
<rect x="172.95" y="358.97" width="2.70" height="3.25" rx="1.15" fill="#cfcfcf" stroke="#0e0e0e" stroke-width="1.25"/>
<rect x="172.95" y="364.46" width="2.70" height="3.25" rx="1.15" fill="#cfcfcf" stroke="#0e0e0e" stroke-width="1.25"/>
<ellipse cx="174.30" cy="371.57" rx="1.35" ry="1.25" fill="#161616"/>
<rect x="172.95" y="375.44" width="2.70" height="3.25" rx="1.15" fill="#cfcfcf" stroke="#0e0e0e" stroke-width="1.25"/>
<rect x="172.95" y="380.93" width="2.70" height="3.25" rx="1.15" fill="#cfcfcf" stroke="#0e0e0e" stroke-width="1.25"/>
<ellipse cx="174.30" cy="388.04" rx="1.35" ry="1.25" fill="#161616"/>
<rect x="172.95" y="391.90" width="2.70" height="3.25" rx="1.15" fill="#cfcfcf" stroke="#0e0e0e" stroke-width="1.25"/>
<rect x="172.95" y="397.39" width="2.70" height="3.25" rx="1.15" fill="#cfcfcf" stroke="#0e0e0e" stroke-width="1.25"/>
<ellipse cx="174.30" cy="404.51" rx="1.35" ry="1.25" fill="#161616"/>
<rect x="172.95" y="408.38" width="2.70" height="3.25" rx="1.15" fill="#cfcfcf" stroke="#0e0e0e" stroke-width="1.25"/>
<rect x="172.95" y="413.87" width="2.70" height="3.25" rx="1.15" fill="#cfcfcf" stroke="#0e0e0e" stroke-width="1.25"/>
<ellipse cx="174.30" cy="420.98" rx="1.35" ry="1.25" fill="#161616"/>
<rect x="172.95" y="424.85" width="2.70" height="3.25" rx="1.15" fill="#cfcfcf" stroke="#0e0e0e" stroke-width="1.25"/>
<rect x="172.95" y="430.34" width="2.70" height="3.25" rx="1.15" fill="#cfcfcf" stroke="#0e0e0e" stroke-width="1.25"/>
<ellipse cx="174.30" cy="437.45" rx="1.35" ry="1.25" fill="#161616"/>
<rect x="172.95" y="441.32" width="2.70" height="3.25" rx="1.15" fill="#cfcfcf" stroke="#0e0e0e" stroke-width="1.25"/>
<rect x="172.95" y="446.81" width="2.70" height="3.25" rx="1.15" fill="#cfcfcf" stroke="#0e0e0e" stroke-width="1.25"/>
<ellipse cx="174.30" cy="453.92" rx="1.35" ry="1.25" fill="#161616"/>
<rect x="172.95" y="457.78" width="2.70" height="3.25" rx="1.15" fill="#cfcfcf" stroke="#0e0e0e" stroke-width="1.25"/>
<rect x="172.95" y="463.27" width="2.70" height="3.25" rx="1.15" fill="#cfcfcf" stroke="#0e0e0e" stroke-width="1.25"/>
<ellipse cx="174.30" cy="470.39" rx="1.35" ry="1.25" fill="#161616"/>
<rect x="172.95" y="474.25" width="2.70" height="3.25" rx="1.15" fill="#cfcfcf" stroke="#0e0e0e" stroke-width="1.25"/>
<rect x="172.95" y="479.75" width="2.70" height="3.25" rx="1.15" fill="#cfcfcf" stroke="#0e0e0e" stroke-width="1.25"/>
<ellipse cx="174.30" cy="486.86" rx="1.35" ry="1.25" fill="#161616"/>
<rect x="172.95" y="490.73" width="2.70" height="3.25" rx="1.15" fill="#cfcfcf" stroke="#0e0e0e" stroke-width="1.25"/>
<rect x="172.95" y="496.22" width="2.70" height="3.25" rx="1.15" fill="#cfcfcf" stroke="#0e0e0e" stroke-width="1.25"/>
<ellipse cx="174.30" cy="503.33" rx="1.35" ry="1.25" fill="#161616"/>
<rect x="172.95" y="507.20" width="2.70" height="3.25" rx="1.15" fill="#cfcfcf" stroke="#0e0e0e" stroke-width="1.25"/>
<rect x="172.95" y="512.69" width="2.70" height="3.25" rx="1.15" fill="#cfcfcf" stroke="#0e0e0e" stroke-width="1.25"/>
<ellipse cx="174.30" cy="519.80" rx="1.35" ry="1.25" fill="#161616"/>
<rect x="172.95" y="523.66" width="2.70" height="3.25" rx="1.15" fill="#cfcfcf" stroke="#0e0e0e" stroke-width="1.25"/>
<rect x="172.95" y="529.15" width="2.70" height="3.25" rx="1.15" fill="#cfcfcf" stroke="#0e0e0e" stroke-width="1.25"/>
<ellipse cx="174.30" cy="536.27" rx="1.35" ry="1.25" fill="#161616"/>
<rect x="172.95" y="540.13" width="2.70" height="3.25" rx="1.15" fill="#cfcfcf" stroke="#0e0e0e" stroke-width="1.25"/>
<rect x="172.95" y="545.62" width="2.70" height="3.25" rx="1.15" fill="#cfcfcf" stroke="#0e0e0e" stroke-width="1.25"/>
<ellipse cx="174.30" cy="552.74" rx="1.35" ry="1.25" fill="#161616"/>
<rect x="172.95" y="556.61" width="2.70" height="3.25" rx="1.15" fill="#cfcfcf" stroke="#0e0e0e" stroke-width="1.25"/>
<rect x="172.95" y="562.10" width="2.70" height="3.25" rx="1.15" fill="#cfcfcf" stroke="#0e0e0e" stroke-width="1.25"/>
<ellipse cx="174.30" cy="569.21" rx="1.35" ry="1.25" fill="#161616"/>
<rect x="172.95" y="573.08" width="2.70" height="3.25" rx="1.15" fill="#cfcfcf" stroke="#0e0e0e" stroke-width="1.25"/>
<rect x="172.95" y="578.57" width="2.70" height="3.25" rx="1.15" fill="#cfcfcf" stroke="#0e0e0e" stroke-width="1.25"/>
<ellipse cx="174.30" cy="585.68" rx="1.35" ry="1.25" fill="#161616"/>
<rect x="172.95" y="589.55" width="2.70" height="3.25" rx="1.15" fill="#cfcfcf" stroke="#0e0e0e" stroke-width="1.25"/>
<rect x="172.95" y="595.03" width="2.70" height="3.25" rx="1.15" fill="#cfcfcf" stroke="#0e0e0e" stroke-width="1.25"/>
<ellipse cx="174.30" cy="602.15" rx="1.35" ry="1.25" fill="#161616"/>
<rect x="172.95" y="606.01" width="2.70" height="3.25" rx="1.15" fill="#cfcfcf" stroke="#0e0e0e" stroke-width="1.25"/>
<rect x="172.95" y="611.50" width="2.70" height="3.25" rx="1.15" fill="#cfcfcf" stroke="#0e0e0e" stroke-width="1.25"/>
<ellipse cx="174.30" cy="618.62" rx="1.35" ry="1.25" fill="#161616"/>
<rect x="172.95" y="622.49" width="2.70" height="3.25" rx="1.15" fill="#cfcfcf" stroke="#0e0e0e" stroke-width="1.25"/>
<rect x="172.95" y="627.98" width="2.70" height="3.25" rx="1.15" fill="#cfcfcf" stroke="#0e0e0e" stroke-width="1.25"/>
<ellipse cx="174.30" cy="635.09" rx="1.35" ry="1.25" fill="#161616"/>
<rect x="172.95" y="638.96" width="2.70" height="3.25" rx="1.15" fill="#cfcfcf" stroke="#0e0e0e" stroke-width="1.25"/>
<rect x="172.95" y="644.45" width="2.70" height="3.25" rx="1.15" fill="#cfcfcf" stroke="#0e0e0e" stroke-width="1.25"/>
<ellipse cx="174.30" cy="651.56" rx="1.35" ry="1.25" fill="#161616"/>
<rect x="172.95" y="655.43" width="2.70" height="3.25" rx="1.15" fill="#cfcfcf" stroke="#0e0e0e" stroke-width="1.25"/>
<rect x="172.95" y="660.92" width="2.70" height="3.25" rx="1.15" fill="#cfcfcf" stroke="#0e0e0e" stroke-width="1.25"/>
<ellipse cx="174.30" cy="668.03" rx="1.35" ry="1.25" fill="#161616"/>
<rect x="172.95" y="671.89" width="2.70" height="3.25" rx="1.15" fill="#cfcfcf" stroke="#0e0e0e" stroke-width="1.25"/>
<rect x="172.95" y="677.38" width="2.70" height="3.25" rx="1.15" fill="#cfcfcf" stroke="#0e0e0e" stroke-width="1.25"/>
<ellipse cx="174.30" cy="684.50" rx="1.35" ry="1.25" fill="#161616"/>
<rect x="172.95" y="688.37" width="2.70" height="3.25" rx="1.15" fill="#cfcfcf" stroke="#0e0e0e" stroke-width="1.25"/>
<rect x="172.95" y="693.86" width="2.70" height="3.25" rx="1.15" fill="#cfcfcf" stroke="#0e0e0e" stroke-width="1.25"/>
<ellipse cx="174.30" cy="700.97" rx="1.35" ry="1.25" fill="#161616"/>
<rect x="172.95" y="704.84" width="2.70" height="3.25" rx="1.15" fill="#cfcfcf" stroke="#0e0e0e" stroke-width="1.25"/>
<rect x="172.95" y="710.33" width="2.70" height="3.25" rx="1.15" fill="#cfcfcf" stroke="#0e0e0e" stroke-width="1.25"/>
<ellipse cx="174.30" cy="717.44" rx="1.35" ry="1.25" fill="#161616"/>
<rect x="185.05" y="210.74" width="2.70" height="3.25" rx="1.15" fill="#cfcfcf" stroke="#0e0e0e" stroke-width="1.25"/>
<rect x="185.05" y="216.23" width="2.70" height="3.25" rx="1.15" fill="#cfcfcf" stroke="#0e0e0e" stroke-width="1.25"/>
<ellipse cx="186.40" cy="223.34" rx="1.35" ry="1.25" fill="#161616"/>
<rect x="185.05" y="227.21" width="2.70" height="3.25" rx="1.15" fill="#cfcfcf" stroke="#0e0e0e" stroke-width="1.25"/>
<rect x="185.05" y="232.69" width="2.70" height="3.25" rx="1.15" fill="#cfcfcf" stroke="#0e0e0e" stroke-width="1.25"/>
<ellipse cx="186.40" cy="239.81" rx="1.35" ry="1.25" fill="#161616"/>
<rect x="185.05" y="243.68" width="2.70" height="3.25" rx="1.15" fill="#cfcfcf" stroke="#0e0e0e" stroke-width="1.25"/>
<rect x="185.05" y="249.17" width="2.70" height="3.25" rx="1.15" fill="#cfcfcf" stroke="#0e0e0e" stroke-width="1.25"/>
<ellipse cx="186.40" cy="256.28" rx="1.35" ry="1.25" fill="#161616"/>
<rect x="185.05" y="260.14" width="2.70" height="3.25" rx="1.15" fill="#cfcfcf" stroke="#0e0e0e" stroke-width="1.25"/>
<rect x="185.05" y="265.63" width="2.70" height="3.25" rx="1.15" fill="#cfcfcf" stroke="#0e0e0e" stroke-width="1.25"/>
<ellipse cx="186.40" cy="272.75" rx="1.35" ry="1.25" fill="#161616"/>
<rect x="185.05" y="276.62" width="2.70" height="3.25" rx="1.15" fill="#cfcfcf" stroke="#0e0e0e" stroke-width="1.25"/>
<rect x="185.05" y="282.11" width="2.70" height="3.25" rx="1.15" fill="#cfcfcf" stroke="#0e0e0e" stroke-width="1.25"/>
<ellipse cx="186.40" cy="289.22" rx="1.35" ry="1.25" fill="#161616"/>
<rect x="185.05" y="293.09" width="2.70" height="3.25" rx="1.15" fill="#cfcfcf" stroke="#0e0e0e" stroke-width="1.25"/>
<rect x="185.05" y="298.58" width="2.70" height="3.25" rx="1.15" fill="#cfcfcf" stroke="#0e0e0e" stroke-width="1.25"/>
<ellipse cx="186.40" cy="305.69" rx="1.35" ry="1.25" fill="#161616"/>
<rect x="185.05" y="309.56" width="2.70" height="3.25" rx="1.15" fill="#cfcfcf" stroke="#0e0e0e" stroke-width="1.25"/>
<rect x="185.05" y="315.05" width="2.70" height="3.25" rx="1.15" fill="#cfcfcf" stroke="#0e0e0e" stroke-width="1.25"/>
<ellipse cx="186.40" cy="322.16" rx="1.35" ry="1.25" fill="#161616"/>
<rect x="185.05" y="326.02" width="2.70" height="3.25" rx="1.15" fill="#cfcfcf" stroke="#0e0e0e" stroke-width="1.25"/>
<rect x="185.05" y="331.51" width="2.70" height="3.25" rx="1.15" fill="#cfcfcf" stroke="#0e0e0e" stroke-width="1.25"/>
<ellipse cx="186.40" cy="338.63" rx="1.35" ry="1.25" fill="#161616"/>
<rect x="185.05" y="342.50" width="2.70" height="3.25" rx="1.15" fill="#cfcfcf" stroke="#0e0e0e" stroke-width="1.25"/>
<rect x="185.05" y="347.99" width="2.70" height="3.25" rx="1.15" fill="#cfcfcf" stroke="#0e0e0e" stroke-width="1.25"/>
<ellipse cx="186.40" cy="355.10" rx="1.35" ry="1.25" fill="#161616"/>
<rect x="185.05" y="358.97" width="2.70" height="3.25" rx="1.15" fill="#cfcfcf" stroke="#0e0e0e" stroke-width="1.25"/>
<rect x="185.05" y="364.46" width="2.70" height="3.25" rx="1.15" fill="#cfcfcf" stroke="#0e0e0e" stroke-width="1.25"/>
<ellipse cx="186.40" cy="371.57" rx="1.35" ry="1.25" fill="#161616"/>
<rect x="185.05" y="375.44" width="2.70" height="3.25" rx="1.15" fill="#cfcfcf" stroke="#0e0e0e" stroke-width="1.25"/>
<rect x="185.05" y="380.93" width="2.70" height="3.25" rx="1.15" fill="#cfcfcf" stroke="#0e0e0e" stroke-width="1.25"/>
<ellipse cx="186.40" cy="388.04" rx="1.35" ry="1.25" fill="#161616"/>
<rect x="185.05" y="391.90" width="2.70" height="3.25" rx="1.15" fill="#cfcfcf" stroke="#0e0e0e" stroke-width="1.25"/>
<rect x="185.05" y="397.39" width="2.70" height="3.25" rx="1.15" fill="#cfcfcf" stroke="#0e0e0e" stroke-width="1.25"/>
<ellipse cx="186.40" cy="404.51" rx="1.35" ry="1.25" fill="#161616"/>
<rect x="185.05" y="408.38" width="2.70" height="3.25" rx="1.15" fill="#cfcfcf" stroke="#0e0e0e" stroke-width="1.25"/>
<rect x="185.05" y="413.87" width="2.70" height="3.25" rx="1.15" fill="#cfcfcf" stroke="#0e0e0e" stroke-width="1.25"/>
<ellipse cx="186.40" cy="420.98" rx="1.35" ry="1.25" fill="#161616"/>
<rect x="185.05" y="424.85" width="2.70" height="3.25" rx="1.15" fill="#cfcfcf" stroke="#0e0e0e" stroke-width="1.25"/>
<rect x="185.05" y="430.34" width="2.70" height="3.25" rx="1.15" fill="#cfcfcf" stroke="#0e0e0e" stroke-width="1.25"/>
<ellipse cx="186.40" cy="437.45" rx="1.35" ry="1.25" fill="#161616"/>
<rect x="185.05" y="441.32" width="2.70" height="3.25" rx="1.15" fill="#cfcfcf" stroke="#0e0e0e" stroke-width="1.25"/>
<rect x="185.05" y="446.81" width="2.70" height="3.25" rx="1.15" fill="#cfcfcf" stroke="#0e0e0e" stroke-width="1.25"/>
<ellipse cx="186.40" cy="453.92" rx="1.35" ry="1.25" fill="#161616"/>
<rect x="185.05" y="457.78" width="2.70" height="3.25" rx="1.15" fill="#cfcfcf" stroke="#0e0e0e" stroke-width="1.25"/>
<rect x="185.05" y="463.27" width="2.70" height="3.25" rx="1.15" fill="#cfcfcf" stroke="#0e0e0e" stroke-width="1.25"/>
<ellipse cx="186.40" cy="470.39" rx="1.35" ry="1.25" fill="#161616"/>
<rect x="185.05" y="474.25" width="2.70" height="3.25" rx="1.15" fill="#cfcfcf" stroke="#0e0e0e" stroke-width="1.25"/>
<rect x="185.05" y="479.75" width="2.70" height="3.25" rx="1.15" fill="#cfcfcf" stroke="#0e0e0e" stroke-width="1.25"/>
<ellipse cx="186.40" cy="486.86" rx="1.35" ry="1.25" fill="#161616"/>
<rect x="185.05" y="490.73" width="2.70" height="3.25" rx="1.15" fill="#cfcfcf" stroke="#0e0e0e" stroke-width="1.25"/>
<rect x="185.05" y="496.22" width="2.70" height="3.25" rx="1.15" fill="#cfcfcf" stroke="#0e0e0e" stroke-width="1.25"/>
<ellipse cx="186.40" cy="503.33" rx="1.35" ry="1.25" fill="#161616"/>
<rect x="185.05" y="507.20" width="2.70" height="3.25" rx="1.15" fill="#cfcfcf" stroke="#0e0e0e" stroke-width="1.25"/>
<rect x="185.05" y="512.69" width="2.70" height="3.25" rx="1.15" fill="#cfcfcf" stroke="#0e0e0e" stroke-width="1.25"/>
<ellipse cx="186.40" cy="519.80" rx="1.35" ry="1.25" fill="#161616"/>
<rect x="185.05" y="523.66" width="2.70" height="3.25" rx="1.15" fill="#cfcfcf" stroke="#0e0e0e" stroke-width="1.25"/>
<rect x="185.05" y="529.15" width="2.70" height="3.25" rx="1.15" fill="#cfcfcf" stroke="#0e0e0e" stroke-width="1.25"/>
<ellipse cx="186.40" cy="536.27" rx="1.35" ry="1.25" fill="#161616"/>
<rect x="185.05" y="540.13" width="2.70" height="3.25" rx="1.15" fill="#cfcfcf" stroke="#0e0e0e" stroke-width="1.25"/>
<rect x="185.05" y="545.62" width="2.70" height="3.25" rx="1.15" fill="#cfcfcf" stroke="#0e0e0e" stroke-width="1.25"/>
<ellipse cx="186.40" cy="552.74" rx="1.35" ry="1.25" fill="#161616"/>
<rect x="185.05" y="556.61" width="2.70" height="3.25" rx="1.15" fill="#cfcfcf" stroke="#0e0e0e" stroke-width="1.25"/>
<rect x="185.05" y="562.10" width="2.70" height="3.25" rx="1.15" fill="#cfcfcf" stroke="#0e0e0e" stroke-width="1.25"/>
<ellipse cx="186.40" cy="569.21" rx="1.35" ry="1.25" fill="#161616"/>
<rect x="185.05" y="573.08" width="2.70" height="3.25" rx="1.15" fill="#cfcfcf" stroke="#0e0e0e" stroke-width="1.25"/>
<rect x="185.05" y="578.57" width="2.70" height="3.25" rx="1.15" fill="#cfcfcf" stroke="#0e0e0e" stroke-width="1.25"/>
<ellipse cx="186.40" cy="585.68" rx="1.35" ry="1.25" fill="#161616"/>
<rect x="185.05" y="589.55" width="2.70" height="3.25" rx="1.15" fill="#cfcfcf" stroke="#0e0e0e" stroke-width="1.25"/>
<rect x="185.05" y="595.03" width="2.70" height="3.25" rx="1.15" fill="#cfcfcf" stroke="#0e0e0e" stroke-width="1.25"/>
<ellipse cx="186.40" cy="602.15" rx="1.35" ry="1.25" fill="#161616"/>
<rect x="185.05" y="606.01" width="2.70" height="3.25" rx="1.15" fill="#cfcfcf" stroke="#0e0e0e" stroke-width="1.25"/>
<rect x="185.05" y="611.50" width="2.70" height="3.25" rx="1.15" fill="#cfcfcf" stroke="#0e0e0e" stroke-width="1.25"/>
<ellipse cx="186.40" cy="618.62" rx="1.35" ry="1.25" fill="#161616"/>
<rect x="185.05" y="622.49" width="2.70" height="3.25" rx="1.15" fill="#cfcfcf" stroke="#0e0e0e" stroke-width="1.25"/>
<rect x="185.05" y="627.98" width="2.70" height="3.25" rx="1.15" fill="#cfcfcf" stroke="#0e0e0e" stroke-width="1.25"/>
<ellipse cx="186.40" cy="635.09" rx="1.35" ry="1.25" fill="#161616"/>
<rect x="185.05" y="638.96" width="2.70" height="3.25" rx="1.15" fill="#cfcfcf" stroke="#0e0e0e" stroke-width="1.25"/>
<rect x="185.05" y="644.45" width="2.70" height="3.25" rx="1.15" fill="#cfcfcf" stroke="#0e0e0e" stroke-width="1.25"/>
<ellipse cx="186.40" cy="651.56" rx="1.35" ry="1.25" fill="#161616"/>
<rect x="185.05" y="655.43" width="2.70" height="3.25" rx="1.15" fill="#cfcfcf" stroke="#0e0e0e" stroke-width="1.25"/>
<rect x="185.05" y="660.92" width="2.70" height="3.25" rx="1.15" fill="#cfcfcf" stroke="#0e0e0e" stroke-width="1.25"/>
<ellipse cx="186.40" cy="668.03" rx="1.35" ry="1.25" fill="#161616"/>
<rect x="185.05" y="671.89" width="2.70" height="3.25" rx="1.15" fill="#cfcfcf" stroke="#0e0e0e" stroke-width="1.25"/>
<rect x="185.05" y="677.38" width="2.70" height="3.25" rx="1.15" fill="#cfcfcf" stroke="#0e0e0e" stroke-width="1.25"/>
<ellipse cx="186.40" cy="684.50" rx="1.35" ry="1.25" fill="#161616"/>
<rect x="185.05" y="688.37" width="2.70" height="3.25" rx="1.15" fill="#cfcfcf" stroke="#0e0e0e" stroke-width="1.25"/>
<polygon points="168.30,717.80 180.10,724.60 191.70,718.60 191.70,720.80 180.10,727.20 168.30,720.20" fill="#fff" stroke="#141414" stroke-width="1.35" stroke-linejoin="round"/>
<line x1="180.10" y1="724.60" x2="180.10" y2="727.20" stroke="#141414" stroke-width="1.0" stroke-linecap="butt"/>
<polygon points="410.50,44.40 420.60,49.70 420.90,585.50 410.50,592.00" fill="#fff" stroke="none" stroke-width="1.0" stroke-linejoin="round"/>
<line x1="410.60" y1="44.40" x2="410.60" y2="592.00" stroke="#141414" stroke-width="1.3" stroke-linecap="butt"/>
<line x1="418.70" y1="49.00" x2="418.70" y2="586.50" stroke="#333" stroke-width="0.7" stroke-linecap="butt"/>
<line x1="420.50" y1="49.60" x2="420.50" y2="585.60" stroke="#141414" stroke-width="1.3" stroke-linecap="butt"/>
<path d="M410.6 44.4 L413 45.2 L413.5 47.2 L415.5 46.8 L420.4 49.7" fill="none" stroke="#141414" stroke-width="1.0" stroke-linejoin="round" stroke-linecap="round" />
<rect x="412.80" y="80.45" width="3.4" height="4.1" rx="1.4" fill="#1c1c1c" transform="rotate(12 414.50 82.50)"/>
<ellipse cx="414.50" cy="88.02" rx="1.65" ry="1.45" fill="#1e1e1e" transform="rotate(-25 414.50 88.02)"/>
<rect x="412.80" y="91.49" width="3.4" height="4.1" rx="1.4" fill="#1c1c1c" transform="rotate(12 414.50 93.54)"/>
<ellipse cx="414.50" cy="99.06" rx="1.65" ry="1.45" fill="#1e1e1e" transform="rotate(-25 414.50 99.06)"/>
<rect x="412.80" y="102.53" width="3.4" height="4.1" rx="1.4" fill="#1c1c1c" transform="rotate(12 414.50 104.58)"/>
<ellipse cx="414.50" cy="110.11" rx="1.65" ry="1.45" fill="#1e1e1e" transform="rotate(-25 414.50 110.11)"/>
<rect x="412.80" y="113.58" width="3.4" height="4.1" rx="1.4" fill="#1c1c1c" transform="rotate(12 414.50 115.63)"/>
<ellipse cx="414.50" cy="121.15" rx="1.65" ry="1.45" fill="#1e1e1e" transform="rotate(-25 414.50 121.15)"/>
<rect x="412.80" y="124.62" width="3.4" height="4.1" rx="1.4" fill="#1c1c1c" transform="rotate(12 414.50 126.67)"/>
<ellipse cx="414.50" cy="132.19" rx="1.65" ry="1.45" fill="#1e1e1e" transform="rotate(-25 414.50 132.19)"/>
<rect x="412.80" y="135.66" width="3.4" height="4.1" rx="1.4" fill="#1c1c1c" transform="rotate(12 414.50 137.71)"/>
<ellipse cx="414.50" cy="143.23" rx="1.65" ry="1.45" fill="#1e1e1e" transform="rotate(-25 414.50 143.23)"/>
<rect x="412.80" y="146.70" width="3.4" height="4.1" rx="1.4" fill="#1c1c1c" transform="rotate(12 414.50 148.75)"/>
<ellipse cx="414.50" cy="154.27" rx="1.65" ry="1.45" fill="#1e1e1e" transform="rotate(-25 414.50 154.27)"/>
<rect x="412.80" y="157.74" width="3.4" height="4.1" rx="1.4" fill="#1c1c1c" transform="rotate(12 414.50 159.79)"/>
<ellipse cx="414.50" cy="165.31" rx="1.65" ry="1.45" fill="#1e1e1e" transform="rotate(-25 414.50 165.31)"/>
<rect x="412.80" y="168.79" width="3.4" height="4.1" rx="1.4" fill="#1c1c1c" transform="rotate(12 414.50 170.84)"/>
<ellipse cx="414.50" cy="176.36" rx="1.65" ry="1.45" fill="#1e1e1e" transform="rotate(-25 414.50 176.36)"/>
<rect x="412.80" y="179.83" width="3.4" height="4.1" rx="1.4" fill="#1c1c1c" transform="rotate(12 414.50 181.88)"/>
<ellipse cx="414.50" cy="187.40" rx="1.65" ry="1.45" fill="#1e1e1e" transform="rotate(-25 414.50 187.40)"/>
<rect x="412.80" y="190.87" width="3.4" height="4.1" rx="1.4" fill="#1c1c1c" transform="rotate(12 414.50 192.92)"/>
<ellipse cx="414.50" cy="198.44" rx="1.65" ry="1.45" fill="#1e1e1e" transform="rotate(-25 414.50 198.44)"/>
<rect x="412.80" y="201.91" width="3.4" height="4.1" rx="1.4" fill="#1c1c1c" transform="rotate(12 414.50 203.96)"/>
<ellipse cx="414.50" cy="209.48" rx="1.65" ry="1.45" fill="#1e1e1e" transform="rotate(-25 414.50 209.48)"/>
<rect x="412.80" y="212.95" width="3.4" height="4.1" rx="1.4" fill="#1c1c1c" transform="rotate(12 414.50 215.00)"/>
<ellipse cx="414.50" cy="220.53" rx="1.65" ry="1.45" fill="#1e1e1e" transform="rotate(-25 414.50 220.53)"/>
<rect x="412.80" y="224.00" width="3.4" height="4.1" rx="1.4" fill="#1c1c1c" transform="rotate(12 414.50 226.05)"/>
<ellipse cx="414.50" cy="231.57" rx="1.65" ry="1.45" fill="#1e1e1e" transform="rotate(-25 414.50 231.57)"/>
<rect x="412.80" y="235.04" width="3.4" height="4.1" rx="1.4" fill="#1c1c1c" transform="rotate(12 414.50 237.09)"/>
<ellipse cx="414.50" cy="242.61" rx="1.65" ry="1.45" fill="#1e1e1e" transform="rotate(-25 414.50 242.61)"/>
<rect x="412.80" y="246.08" width="3.4" height="4.1" rx="1.4" fill="#1c1c1c" transform="rotate(12 414.50 248.13)"/>
<ellipse cx="414.50" cy="253.65" rx="1.65" ry="1.45" fill="#1e1e1e" transform="rotate(-25 414.50 253.65)"/>
<rect x="412.80" y="257.12" width="3.4" height="4.1" rx="1.4" fill="#1c1c1c" transform="rotate(12 414.50 259.17)"/>
<ellipse cx="414.50" cy="264.69" rx="1.65" ry="1.45" fill="#1e1e1e" transform="rotate(-25 414.50 264.69)"/>
<rect x="412.80" y="268.16" width="3.4" height="4.1" rx="1.4" fill="#1c1c1c" transform="rotate(12 414.50 270.21)"/>
<ellipse cx="414.50" cy="275.74" rx="1.65" ry="1.45" fill="#1e1e1e" transform="rotate(-25 414.50 275.74)"/>
<rect x="412.80" y="279.21" width="3.4" height="4.1" rx="1.4" fill="#1c1c1c" transform="rotate(12 414.50 281.26)"/>
<ellipse cx="414.50" cy="286.78" rx="1.65" ry="1.45" fill="#1e1e1e" transform="rotate(-25 414.50 286.78)"/>
<rect x="412.80" y="290.25" width="3.4" height="4.1" rx="1.4" fill="#1c1c1c" transform="rotate(12 414.50 292.30)"/>
<ellipse cx="414.50" cy="297.82" rx="1.65" ry="1.45" fill="#1e1e1e" transform="rotate(-25 414.50 297.82)"/>
<rect x="412.80" y="301.29" width="3.4" height="4.1" rx="1.4" fill="#1c1c1c" transform="rotate(12 414.50 303.34)"/>
<ellipse cx="414.50" cy="308.86" rx="1.65" ry="1.45" fill="#1e1e1e" transform="rotate(-25 414.50 308.86)"/>
<rect x="412.80" y="312.33" width="3.4" height="4.1" rx="1.4" fill="#1c1c1c" transform="rotate(12 414.50 314.38)"/>
<ellipse cx="414.50" cy="319.90" rx="1.65" ry="1.45" fill="#1e1e1e" transform="rotate(-25 414.50 319.90)"/>
<rect x="412.80" y="323.37" width="3.4" height="4.1" rx="1.4" fill="#1c1c1c" transform="rotate(12 414.50 325.42)"/>
<ellipse cx="414.50" cy="330.94" rx="1.65" ry="1.45" fill="#1e1e1e" transform="rotate(-25 414.50 330.94)"/>
<rect x="412.80" y="334.42" width="3.4" height="4.1" rx="1.4" fill="#1c1c1c" transform="rotate(12 414.50 336.47)"/>
<ellipse cx="414.50" cy="341.99" rx="1.65" ry="1.45" fill="#1e1e1e" transform="rotate(-25 414.50 341.99)"/>
<rect x="412.80" y="345.46" width="3.4" height="4.1" rx="1.4" fill="#1c1c1c" transform="rotate(12 414.50 347.51)"/>
<ellipse cx="414.50" cy="353.03" rx="1.65" ry="1.45" fill="#1e1e1e" transform="rotate(-25 414.50 353.03)"/>
<rect x="412.80" y="356.50" width="3.4" height="4.1" rx="1.4" fill="#1c1c1c" transform="rotate(12 414.50 358.55)"/>
<ellipse cx="414.50" cy="364.07" rx="1.65" ry="1.45" fill="#1e1e1e" transform="rotate(-25 414.50 364.07)"/>
<rect x="412.80" y="367.54" width="3.4" height="4.1" rx="1.4" fill="#1c1c1c" transform="rotate(12 414.50 369.59)"/>
<ellipse cx="414.50" cy="375.11" rx="1.65" ry="1.45" fill="#1e1e1e" transform="rotate(-25 414.50 375.11)"/>
<rect x="412.80" y="378.58" width="3.4" height="4.1" rx="1.4" fill="#1c1c1c" transform="rotate(12 414.50 380.63)"/>
<ellipse cx="414.50" cy="386.15" rx="1.65" ry="1.45" fill="#1e1e1e" transform="rotate(-25 414.50 386.15)"/>
<rect x="412.80" y="389.63" width="3.4" height="4.1" rx="1.4" fill="#1c1c1c" transform="rotate(12 414.50 391.68)"/>
<ellipse cx="414.50" cy="397.20" rx="1.65" ry="1.45" fill="#1e1e1e" transform="rotate(-25 414.50 397.20)"/>
<rect x="412.80" y="400.67" width="3.4" height="4.1" rx="1.4" fill="#1c1c1c" transform="rotate(12 414.50 402.72)"/>
<ellipse cx="414.50" cy="408.24" rx="1.65" ry="1.45" fill="#1e1e1e" transform="rotate(-25 414.50 408.24)"/>
<rect x="412.80" y="411.71" width="3.4" height="4.1" rx="1.4" fill="#1c1c1c" transform="rotate(12 414.50 413.76)"/>
<ellipse cx="414.50" cy="419.28" rx="1.65" ry="1.45" fill="#1e1e1e" transform="rotate(-25 414.50 419.28)"/>
<rect x="412.80" y="422.75" width="3.4" height="4.1" rx="1.4" fill="#1c1c1c" transform="rotate(12 414.50 424.80)"/>
<ellipse cx="414.50" cy="430.32" rx="1.65" ry="1.45" fill="#1e1e1e" transform="rotate(-25 414.50 430.32)"/>
<rect x="412.80" y="433.79" width="3.4" height="4.1" rx="1.4" fill="#1c1c1c" transform="rotate(12 414.50 435.84)"/>
<ellipse cx="414.50" cy="441.37" rx="1.65" ry="1.45" fill="#1e1e1e" transform="rotate(-25 414.50 441.37)"/>
<rect x="412.80" y="444.84" width="3.4" height="4.1" rx="1.4" fill="#1c1c1c" transform="rotate(12 414.50 446.89)"/>
<ellipse cx="414.50" cy="452.41" rx="1.65" ry="1.45" fill="#1e1e1e" transform="rotate(-25 414.50 452.41)"/>
<rect x="412.80" y="455.88" width="3.4" height="4.1" rx="1.4" fill="#1c1c1c" transform="rotate(12 414.50 457.93)"/>
<ellipse cx="414.50" cy="463.45" rx="1.65" ry="1.45" fill="#1e1e1e" transform="rotate(-25 414.50 463.45)"/>
<rect x="412.80" y="466.92" width="3.4" height="4.1" rx="1.4" fill="#1c1c1c" transform="rotate(12 414.50 468.97)"/>
<ellipse cx="414.50" cy="474.49" rx="1.65" ry="1.45" fill="#1e1e1e" transform="rotate(-25 414.50 474.49)"/>
<rect x="412.80" y="477.96" width="3.4" height="4.1" rx="1.4" fill="#1c1c1c" transform="rotate(12 414.50 480.01)"/>
<ellipse cx="414.50" cy="485.53" rx="1.65" ry="1.45" fill="#1e1e1e" transform="rotate(-25 414.50 485.53)"/>
<rect x="412.80" y="489.00" width="3.4" height="4.1" rx="1.4" fill="#1c1c1c" transform="rotate(12 414.50 491.05)"/>
<ellipse cx="414.50" cy="496.57" rx="1.65" ry="1.45" fill="#1e1e1e" transform="rotate(-25 414.50 496.57)"/>
<rect x="412.80" y="500.05" width="3.4" height="4.1" rx="1.4" fill="#1c1c1c" transform="rotate(12 414.50 502.10)"/>
<ellipse cx="414.50" cy="507.62" rx="1.65" ry="1.45" fill="#1e1e1e" transform="rotate(-25 414.50 507.62)"/>
<rect x="412.80" y="511.09" width="3.4" height="4.1" rx="1.4" fill="#1c1c1c" transform="rotate(12 414.50 513.14)"/>
<ellipse cx="414.50" cy="518.66" rx="1.65" ry="1.45" fill="#1e1e1e" transform="rotate(-25 414.50 518.66)"/>
<rect x="412.80" y="522.13" width="3.4" height="4.1" rx="1.4" fill="#1c1c1c" transform="rotate(12 414.50 524.18)"/>
<ellipse cx="414.50" cy="529.70" rx="1.65" ry="1.45" fill="#1e1e1e" transform="rotate(-25 414.50 529.70)"/>
<rect x="412.80" y="533.17" width="3.4" height="4.1" rx="1.4" fill="#1c1c1c" transform="rotate(12 414.50 535.22)"/>
<ellipse cx="414.50" cy="540.74" rx="1.65" ry="1.45" fill="#1e1e1e" transform="rotate(-25 414.50 540.74)"/>
<rect x="412.80" y="544.21" width="3.4" height="4.1" rx="1.4" fill="#1c1c1c" transform="rotate(12 414.50 546.26)"/>
<ellipse cx="414.50" cy="551.78" rx="1.65" ry="1.45" fill="#1e1e1e" transform="rotate(-25 414.50 551.78)"/>
<rect x="412.80" y="555.26" width="3.4" height="4.1" rx="1.4" fill="#1c1c1c" transform="rotate(12 414.50 557.31)"/>
<polygon points="408.40,591.60 421.40,585.10 421.40,587.60 408.40,594.60" fill="#fff" stroke="#141414" stroke-width="1.2" stroke-linejoin="round"/>
<polygon points="410.90,52.60 412.60,53.40 413.80,55.00 411.00,56.60" fill="#fff" stroke="none" stroke-width="1.0" stroke-linejoin="round"/>
<line x1="409.50" y1="51.45" x2="412.50" y2="53.15" stroke="#141414" stroke-width="1.35" stroke-linecap="butt"/>
<line x1="409.50" y1="58.30" x2="413.60" y2="55.95" stroke="#141414" stroke-width="2.4" stroke-linecap="butt"/>
<path d="M396.6 66.6 L413 57.0 Q417.6 55.6 417.7 59.5 L417.7 81.0 L413.6 81.0 Q411.5 79.0 410.4 76.0 Q408 70.0 403.6 70.2 Q400 70.6 398.4 72.0 Q395.2 71.4 396.6 66.6 Z" fill="#fff" stroke="#141414" stroke-width="1.25" stroke-linejoin="round" stroke-linecap="round" />
<ellipse cx="400.2" cy="67.4" rx="2.8" ry="1.35" fill="#eee" stroke="#141414" stroke-width="1.25" transform="rotate(-30 400.2 67.4)"/>
<circle cx="414.5" cy="59.2" r="1.55" fill="#1a1a1a"/>
<rect x="413.3" y="72.4" width="2.6" height="6.2" rx="1.2" fill="#333" stroke="#141414" stroke-width="1.1"/>
<path d="M396.6 571.6 L413 562.0 Q417.6 560.6 417.7 564.5 L417.7 586.0 L413.6 586.0 Q411.5 584.0 410.4 581.0 Q408 575.0 403.6 575.2 Q400 575.6 398.4 577.0 Q395.2 576.4 396.6 571.6 Z" fill="#fff" stroke="#141414" stroke-width="1.25" stroke-linejoin="round" stroke-linecap="round" />
<ellipse cx="400.2" cy="572.4" rx="2.8" ry="1.35" fill="#eee" stroke="#141414" stroke-width="1.25" transform="rotate(-30 400.2 572.4)"/>
<circle cx="414.5" cy="564.2" r="1.55" fill="#1a1a1a"/>
<rect x="413.3" y="577.4" width="2.6" height="6.2" rx="1.2" fill="#333" stroke="#141414" stroke-width="1.1"/>
<path d="M185.3 186.2 L204.6 175.4 Q206 177.6 204.6 181.6 Q196 188.5 192.2 197.5 Q190.6 202 190.3 208 L185 208 Q184.2 200 184.6 188 Z" fill="#fff" stroke="#141414" stroke-width="1.25" stroke-linejoin="round" stroke-linecap="round" />
<ellipse cx="201.6" cy="181.5" rx="2.6" ry="1.35" fill="#eee" stroke="#141414" stroke-width="1.25" transform="rotate(-30 201.6 181.5)"/>
<circle cx="186.5" cy="190.4" r="1.4" fill="#1a1a1a"/>
<rect x="185.7" y="202.6" width="2.5" height="6.6" rx="1.2" fill="#3a3a3a" stroke="#141414" stroke-width="1.1"/>
<path d="M188.6 691.4 L203.6 682.6 Q205.4 685 203.6 688.4 Q195.8 695.5 192.4 704 Q190.6 709.5 190.4 718 L184.4 718 L184.4 694 Z" fill="#fff" stroke="#141414" stroke-width="1.25" stroke-linejoin="round" stroke-linecap="round" />
<ellipse cx="201.0" cy="687.0" rx="2.7" ry="1.35" fill="#eee" stroke="#141414" stroke-width="1.25" transform="rotate(-30 201 687)"/>
<circle cx="186.6" cy="694.6" r="1.45" fill="#1a1a1a"/>
<rect x="185.8" y="708.6" width="2.6" height="8.2" rx="1.2" fill="#3a3a3a" stroke="#141414" stroke-width="1.1"/>
<line x1="158.10" y1="542.00" x2="174.30" y2="532.80" stroke="#141414" stroke-width="1.15" stroke-linecap="butt"/>
<line x1="167.60" y1="536.20" x2="160.60" y2="540.20" stroke="#1c1c1c" stroke-width="3.8" stroke-linecap="butt"/>
<line x1="165.00" y1="536.53" x2="166.00" y2="538.27" stroke="#555" stroke-width="0.35" stroke-linecap="butt"/>
<line x1="163.25" y1="537.53" x2="164.25" y2="539.27" stroke="#555" stroke-width="0.35" stroke-linecap="butt"/>
<line x1="161.50" y1="538.53" x2="162.50" y2="540.27" stroke="#555" stroke-width="0.35" stroke-linecap="butt"/>
<circle cx="160.3" cy="540.3" r="2.1" fill="#1c1c1c"/>
<line x1="186.10" y1="532.30" x2="205.00" y2="542.00" stroke="#141414" stroke-width="1.15" stroke-linecap="butt"/>
<line x1="193.30" y1="536.60" x2="200.40" y2="540.70" stroke="#1c1c1c" stroke-width="3.8" stroke-linecap="butt"/>
<line x1="194.93" y1="538.70" x2="195.93" y2="536.96" stroke="#555" stroke-width="0.35" stroke-linecap="butt"/>
<line x1="196.70" y1="539.72" x2="197.71" y2="537.99" stroke="#555" stroke-width="0.35" stroke-linecap="butt"/>
<line x1="198.48" y1="540.75" x2="199.48" y2="539.01" stroke="#555" stroke-width="0.35" stroke-linecap="butt"/>
<circle cx="201.1" cy="541.1" r="1.7" fill="#9a9a9a" stroke="#141414" stroke-width="1.1"/>
<line x1="143.40" y1="707.00" x2="173.10" y2="690.10" stroke="#141414" stroke-width="1.15" stroke-linecap="butt"/>
<line x1="159.20" y1="698.00" x2="152.40" y2="701.90" stroke="#1c1c1c" stroke-width="3.8" stroke-linecap="butt"/>
<line x1="156.66" y1="698.30" x2="157.66" y2="700.04" stroke="#555" stroke-width="0.35" stroke-linecap="butt"/>
<line x1="154.96" y1="699.28" x2="155.96" y2="701.01" stroke="#555" stroke-width="0.35" stroke-linecap="butt"/>
<line x1="153.26" y1="700.25" x2="154.26" y2="701.99" stroke="#555" stroke-width="0.35" stroke-linecap="butt"/>
<circle cx="152.1" cy="702.0" r="2.1" fill="#1c1c1c"/>
<line x1="200.60" y1="687.40" x2="227.60" y2="704.10" stroke="#141414" stroke-width="1.15" stroke-linecap="butt"/>
<line x1="210.50" y1="693.90" x2="218.60" y2="698.60" stroke="#1c1c1c" stroke-width="3.8" stroke-linecap="butt"/>
<line x1="212.43" y1="696.17" x2="213.43" y2="694.45" stroke="#555" stroke-width="0.35" stroke-linecap="butt"/>
<line x1="214.45" y1="697.35" x2="215.46" y2="695.62" stroke="#555" stroke-width="0.35" stroke-linecap="butt"/>
<line x1="216.48" y1="698.52" x2="217.48" y2="696.80" stroke="#555" stroke-width="0.35" stroke-linecap="butt"/>
<circle cx="219.3" cy="699.0" r="1.7" fill="#9a9a9a" stroke="#141414" stroke-width="1.1"/>
<line x1="186.60" y1="694.40" x2="213.00" y2="710.00" stroke="#141414" stroke-width="1.15" stroke-linecap="butt"/>
<line x1="198.60" y1="701.80" x2="205.80" y2="706.00" stroke="#1c1c1c" stroke-width="3.8" stroke-linecap="butt"/>
<line x1="200.26" y1="703.92" x2="201.26" y2="702.20" stroke="#555" stroke-width="0.35" stroke-linecap="butt"/>
<line x1="202.06" y1="704.97" x2="203.06" y2="703.25" stroke="#555" stroke-width="0.35" stroke-linecap="butt"/>
<line x1="203.86" y1="706.02" x2="204.86" y2="704.30" stroke="#555" stroke-width="0.35" stroke-linecap="butt"/>
<circle cx="206.5" cy="706.4" r="1.7" fill="#9a9a9a" stroke="#141414" stroke-width="1.1"/>
<line x1="190.40" y1="714.40" x2="204.40" y2="721.90" stroke="#141414" stroke-width="1.15" stroke-linecap="butt"/>
<line x1="194.00" y1="715.90" x2="201.80" y2="720.00" stroke="#1c1c1c" stroke-width="3.8" stroke-linecap="butt"/>
<line x1="195.87" y1="718.02" x2="196.81" y2="716.24" stroke="#555" stroke-width="0.35" stroke-linecap="butt"/>
<line x1="197.82" y1="719.04" x2="198.76" y2="717.27" stroke="#555" stroke-width="0.35" stroke-linecap="butt"/>
<line x1="199.77" y1="720.07" x2="200.71" y2="718.29" stroke="#555" stroke-width="0.35" stroke-linecap="butt"/>
<circle cx="202.5" cy="720.4" r="1.7" fill="#9a9a9a" stroke="#141414" stroke-width="1.1"/>
<line x1="200.40" y1="540.90" x2="237.09" y2="549.16" stroke="#111" stroke-width="1.4" stroke-linecap="butt"/>
<polygon points="248.80,551.80 234.88,552.15 236.38,545.52" fill="#111" stroke="none" stroke-width="1.0" stroke-linejoin="round"/>
<line x1="335.00" y1="610.30" x2="351.47" y2="637.44" stroke="#111" stroke-width="1.4" stroke-linecap="butt"/>
<polygon points="357.70,647.70 347.79,637.92 353.60,634.40" fill="#111" stroke="none" stroke-width="1.0" stroke-linejoin="round"/>
<line x1="189.30" y1="701.40" x2="247.50" y2="701.40" stroke="#111" stroke-width="1.4" stroke-linecap="butt"/>
<polygon points="259.50,701.40 246.00,704.80 246.00,698.00" fill="#111" stroke="none" stroke-width="1.0" stroke-linejoin="round"/>
<line x1="169.30" y1="721.30" x2="132.65" y2="717.91" stroke="#111" stroke-width="1.4" stroke-linecap="butt"/>
<polygon points="120.70,716.80 134.46,714.66 133.83,721.43" fill="#111" stroke="none" stroke-width="1.0" stroke-linejoin="round"/>
<line x1="557.40" y1="466.00" x2="557.40" y2="437.80" stroke="#111" stroke-width="1.4" stroke-linecap="butt"/>
<polygon points="557.40,425.80 560.80,439.30 554.00,439.30" fill="#111" stroke="none" stroke-width="1.0" stroke-linejoin="round"/>
<line x1="532.60" y1="508.00" x2="532.60" y2="538.20" stroke="#111" stroke-width="1.4" stroke-linecap="butt"/>
<polygon points="532.60,550.20 529.20,536.70 536.00,536.70" fill="#111" stroke="none" stroke-width="1.0" stroke-linejoin="round"/>
<defs><filter id="nf" x="-5%" y="-20%" width="110%" height="140%" color-interpolation-filters="sRGB"><feOffset dx="0" dy="0"/></filter></defs><g filter="url(#nf)">
<text x="253.2" y="558.6" font-family="Liberation Sans, sans-serif" font-size="17.0" fill="#1c1c1c" textLength="29.6" lengthAdjust="spacingAndGlyphs">Bolt</text>
<text x="364.3" y="656.1" font-family="Liberation Sans, sans-serif" font-size="17.0" fill="#1c1c1c" textLength="57.4" lengthAdjust="spacingAndGlyphs">Shelves</text>
<text x="266.2" y="705.1" font-family="Liberation Sans, sans-serif" font-size="17.0" fill="#1c1c1c" textLength="101.6" lengthAdjust="spacingAndGlyphs">Corner platte</text>
<text x="39.8" y="720.1" font-family="Liberation Sans, sans-serif" font-size="17.0" fill="#1c1c1c" textLength="74.2" lengthAdjust="spacingAndGlyphs">Baseplate</text>
<text x="503.6" y="414.2" font-family="Liberation Sans, sans-serif" font-size="17.0" fill="#1c1c1c" textLength="101.6" lengthAdjust="spacingAndGlyphs">Corner platte</text>
<text x="494.8" y="565.1" font-family="Liberation Sans, sans-serif" font-size="17.0" fill="#1c1c1c" textLength="74.4" lengthAdjust="spacingAndGlyphs">Baseplate</text>
</g>
<path d="M549.4 471.4 L567.6 461.6 Q570 461.2 570.1 463.4 L570.3 482.4 Q568.6 487 565.8 485.8 Q563.6 480 560.6 477.6 Q558 476 554 476.8 Q550.4 478 548.8 476.2 Q547.4 473.4 549.4 471.4 Z" fill="#fff" stroke="#141414" stroke-width="1.45" stroke-linejoin="round" stroke-linecap="round" />
<ellipse cx="552.0" cy="472.8" rx="2.4" ry="1.25" fill="#eee" stroke="#141414" stroke-width="1.2" transform="rotate(-30 552 472.8)"/>
<circle cx="567.0" cy="465.1" r="1.35" fill="#222"/>
<rect x="565.8" y="477.8" width="2.4" height="5.6" rx="1.2" fill="#444" stroke="#141414" stroke-width="1.0"/>
<path d="M525.6 493.4 L536.4 499.9 L525.6 507.0" fill="none" stroke="#161616" stroke-width="3.9" stroke-linejoin="round" stroke-linecap="butt"/>
<path d="M525.9 493.7 L535.0 499.9 L525.9 506.6" fill="none" stroke="#eee" stroke-width="0.8" stroke-linejoin="round" stroke-linecap="round" />
</svg>
</body></html>
